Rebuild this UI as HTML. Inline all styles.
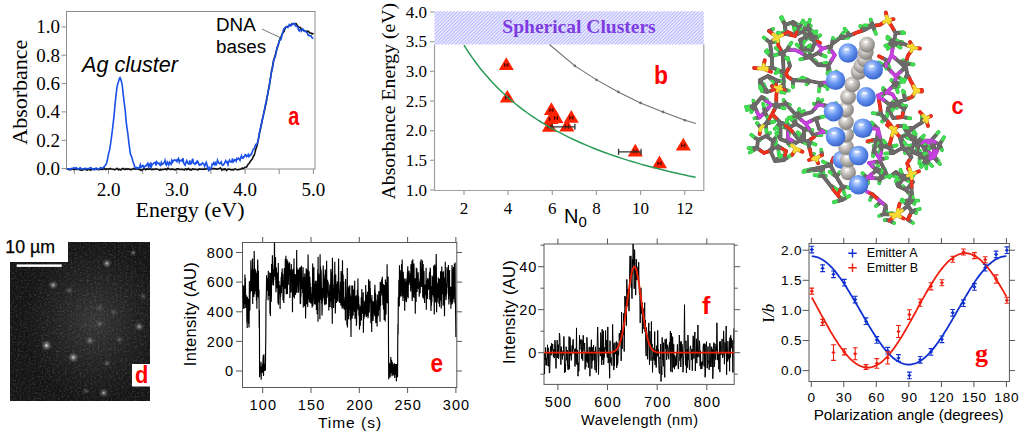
<!DOCTYPE html>
<html><head><meta charset="utf-8"><style>
html,body{margin:0;padding:0;background:#fff;width:1024px;height:431px;overflow:hidden}
svg{display:block}
</style></head><body>
<svg width="1024" height="431" viewBox="0 0 1024 431">
<rect width="1024" height="431" fill="#fff"/>
<rect x="66.5" y="11.5" width="248.5" height="157.5" fill="none" stroke="#8c8c8c" stroke-width="1"/>
<line x1="61.5" y1="168.6" x2="66.5" y2="168.6" stroke="#8c8c8c"/>
<text x="60" y="175.1" text-anchor="end" font-family='"Liberation Serif", serif' font-size="19">0.0</text>
<line x1="61.5" y1="140.3" x2="66.5" y2="140.3" stroke="#8c8c8c"/>
<text x="60" y="146.8" text-anchor="end" font-family='"Liberation Serif", serif' font-size="19">0.2</text>
<line x1="61.5" y1="111.9" x2="66.5" y2="111.9" stroke="#8c8c8c"/>
<text x="60" y="118.4" text-anchor="end" font-family='"Liberation Serif", serif' font-size="19">0.4</text>
<line x1="61.5" y1="83.6" x2="66.5" y2="83.6" stroke="#8c8c8c"/>
<text x="60" y="90.1" text-anchor="end" font-family='"Liberation Serif", serif' font-size="19">0.6</text>
<line x1="61.5" y1="55.2" x2="66.5" y2="55.2" stroke="#8c8c8c"/>
<text x="60" y="61.7" text-anchor="end" font-family='"Liberation Serif", serif' font-size="19">0.8</text>
<line x1="61.5" y1="26.9" x2="66.5" y2="26.9" stroke="#8c8c8c"/>
<text x="60" y="33.4" text-anchor="end" font-family='"Liberation Serif", serif' font-size="19">1.0</text>
<line x1="74.3" y1="169" x2="74.3" y2="174" stroke="#8c8c8c"/>
<line x1="108.5" y1="169" x2="108.5" y2="174" stroke="#8c8c8c"/>
<line x1="142.7" y1="169" x2="142.7" y2="174" stroke="#8c8c8c"/>
<line x1="176.8" y1="169" x2="176.8" y2="174" stroke="#8c8c8c"/>
<line x1="210.9" y1="169" x2="210.9" y2="174" stroke="#8c8c8c"/>
<line x1="245.1" y1="169" x2="245.1" y2="174" stroke="#8c8c8c"/>
<line x1="279.2" y1="169" x2="279.2" y2="174" stroke="#8c8c8c"/>
<line x1="313.4" y1="169" x2="313.4" y2="174" stroke="#8c8c8c"/>
<text x="108.5" y="196.4" text-anchor="middle" font-family='"Liberation Serif", serif' font-size="19">2.0</text>
<text x="176.8" y="196.4" text-anchor="middle" font-family='"Liberation Serif", serif' font-size="19">3.0</text>
<text x="245.1" y="196.4" text-anchor="middle" font-family='"Liberation Serif", serif' font-size="19">4.0</text>
<text x="313.4" y="196.4" text-anchor="middle" font-family='"Liberation Serif", serif' font-size="19">5.0</text>
<text x="190" y="217.2" text-anchor="middle" font-family='"Liberation Serif", serif' font-size="22">Energy (eV)</text>
<text transform="translate(26.8,92.2) rotate(-90)" text-anchor="middle" font-family='"Liberation Serif", serif' font-size="22">Absorbance</text>
<polyline points="66.8,169.2 67.6,169.1 68.3,169.2 69.1,169.6 69.8,169.6 70.6,169.7 71.3,169.5 72.1,168.7 72.8,168.9 73.6,169.6 74.3,169.2 75.1,168.9 75.8,169.0 76.6,169.5 77.3,169.5 78.1,168.9 78.8,169.4 79.6,169.8 80.3,170.0 81.1,170.3 81.8,170.3 82.6,169.9 83.3,169.7 84.1,169.5 84.8,169.0 85.6,169.2 86.3,170.1 87.1,170.2 87.8,169.4 88.6,169.1 89.3,169.7 90.1,169.9 90.8,169.7 91.6,169.8 92.3,169.1 93.1,169.1 93.8,169.5 94.6,168.9 95.3,169.1 96.1,169.4 96.8,169.2 97.6,169.1 98.3,169.6 99.1,169.6 99.8,168.7 100.6,169.2 101.3,169.4 102.1,168.8 102.8,169.4 103.6,168.7 104.3,168.2 105.1,169.3 105.8,169.6 106.6,168.9 107.3,169.0 108.1,169.0 108.8,168.9 109.6,169.0 110.3,168.4 111.1,168.9 111.8,169.3 112.6,169.3 113.3,169.3 114.1,169.5 114.8,169.8 115.6,169.4 116.3,168.9 117.0,168.4 117.8,169.2 118.5,169.9 119.3,169.2 120.0,169.6 120.8,170.0 121.5,169.4 122.3,168.8 123.0,168.5 123.8,169.0 124.5,169.4 125.3,169.4 126.0,168.7 126.8,168.8 127.5,169.4 128.3,169.1 129.0,169.1 129.8,169.3 130.5,169.6 131.3,169.6 132.0,169.3 132.8,168.9 133.5,168.5 134.3,168.9 135.0,168.9 135.8,169.1 136.5,168.9 137.3,168.8 138.0,169.0 138.8,169.4 139.5,169.5 140.3,169.6 141.0,170.5 141.8,170.0 142.5,169.6 143.3,169.4 144.0,168.3 144.8,168.7 145.5,169.7 146.3,169.3 147.0,168.9 147.8,169.1 148.5,169.3 149.3,169.0 150.0,168.7 150.8,169.3 151.5,169.6 152.3,169.2 153.0,169.5 153.8,169.4 154.5,169.4 155.3,169.1 156.0,168.8 156.8,169.1 157.5,169.3 158.3,169.4 159.0,169.9 159.8,170.3 160.5,169.4 161.3,169.8 162.0,169.6 162.8,169.5 163.5,169.5 164.3,169.2 165.0,169.2 165.8,168.8 166.5,169.7 167.3,169.3 168.0,168.2 168.8,168.7 169.5,169.3 170.3,169.3 171.0,169.6 171.8,169.1 172.5,169.0 173.3,169.4 174.0,169.5 174.8,169.7 175.5,169.8 176.3,169.2 177.0,168.8 177.8,168.9 178.5,168.8 179.3,169.4 180.0,169.5 180.8,169.5 181.5,169.4 182.2,169.3 183.0,169.4 183.7,169.8 184.5,169.9 185.2,168.9 186.0,168.8 186.7,169.8 187.5,169.4 188.2,168.5 189.0,169.2 189.7,169.8 190.5,169.5 191.2,170.0 192.0,169.5 192.7,168.9 193.5,169.1 194.2,169.4 195.0,169.3 195.7,169.2 196.5,169.4 197.2,169.6 198.0,170.0 198.7,169.1 199.5,168.9 200.2,169.2 201.0,169.1 201.7,169.3 202.5,169.5 203.2,169.1 204.0,169.1 204.7,169.3 205.5,169.2 206.2,168.7 207.0,168.5 207.7,168.8 208.5,169.2 209.2,169.9 210.0,169.3 210.7,168.5 211.5,168.9 212.2,169.0 213.0,168.7 213.7,168.6 214.5,168.5 215.2,169.0 216.0,168.8 216.7,169.1 217.5,169.3 218.2,168.7 219.0,168.7 219.7,168.2 220.5,168.0 221.2,169.0 222.0,170.2 222.7,169.5 223.5,169.2 224.2,169.5 225.0,168.9 225.7,169.5 226.5,170.5 227.2,169.8 228.0,169.1 228.7,169.2 229.5,169.2 230.2,169.5 231.0,170.0 231.7,169.8 232.5,169.6 233.2,170.1 234.0,169.6 234.7,169.0 235.5,169.0 236.2,169.4 237.0,169.8 237.7,169.8 238.5,169.8 239.2,169.4 240.0,169.3 240.7,169.2 241.5,168.7 242.2,168.1 243.0,168.7 243.7,168.6 244.5,167.5 245.2,167.3 246.0,167.2 246.7,166.8 247.5,165.3 248.2,164.2 248.9,163.5 249.7,162.6 250.4,161.2 251.2,160.2 251.9,159.6 252.7,158.1 253.4,156.2 254.2,155.3 254.9,152.9 255.7,149.5 256.4,147.5 257.2,145.2 257.9,141.7 258.7,137.3 259.4,133.4 260.2,130.3 260.9,126.9 261.7,123.4 262.4,119.6 263.2,115.9 263.9,112.6 264.7,109.7 265.4,106.1 266.2,102.5 266.9,98.1 267.7,94.1 268.4,90.3 269.2,85.6 269.9,81.8 270.7,76.9 271.4,71.7 272.2,68.2 272.9,64.2 273.7,59.7 274.4,58.1 275.2,55.6 275.9,52.2 276.7,49.7 277.4,47.6 278.2,45.2 278.9,42.3 279.7,39.8 280.4,38.0 281.2,36.8 281.9,34.7 282.7,33.3 283.4,32.3 284.2,31.2 284.9,28.8 285.7,27.1 286.4,26.8 287.2,26.4 287.9,26.2 288.7,25.9 289.4,25.5 290.2,25.4 290.9,25.0 291.7,24.0 292.4,23.6 293.2,23.8 293.9,23.9 294.7,23.8 295.4,23.6 296.2,23.8 296.9,25.0 297.7,25.9 298.4,26.9 299.2,27.4 299.9,27.4 300.7,28.1 301.4,29.1 302.2,29.6 302.9,29.9 303.7,30.7 304.4,31.1 305.2,31.2 305.9,31.1 306.7,31.3 307.4,31.7 308.2,31.2 308.9,31.8 309.7,32.9 310.4,33.0 311.2,33.0 311.9,33.8 312.7,33.9 313.4,33.1" fill="none" stroke="#111" stroke-width="1.6"/>
<polyline points="66.8,168.7 67.6,168.8 68.3,169.0 69.1,168.9 69.8,168.9 70.6,169.4 71.3,168.5 72.1,168.5 72.8,168.5 73.6,167.7 74.3,168.0 75.1,168.3 75.8,167.7 76.6,168.0 77.3,168.9 78.1,169.3 78.8,169.1 79.6,168.1 80.3,167.7 81.1,168.6 81.8,169.2 82.6,169.1 83.3,168.7 84.1,168.6 84.8,168.6 85.6,168.4 86.3,168.6 87.1,168.7 87.8,168.5 88.6,168.6 89.3,168.5 90.1,167.8 90.8,167.7 91.6,168.4 92.3,169.2 93.1,169.1 93.8,169.2 94.6,169.8 95.3,168.8 96.1,168.0 96.8,168.4 97.6,169.3 98.3,169.3 99.1,169.0 99.8,168.6 100.6,167.6 101.3,167.7 102.1,168.1 102.8,168.2 103.6,167.4 104.3,166.4 105.1,165.8 105.8,164.8 106.6,163.2 107.3,160.3 108.1,156.1 108.8,152.8 109.6,150.0 110.3,145.7 111.1,140.2 111.8,134.8 112.6,128.4 113.3,122.1 114.1,115.7 114.8,107.0 115.6,99.2 116.3,93.2 117.0,86.8 117.8,83.7 118.5,81.8 119.3,78.7 120.0,77.6 120.8,79.4 121.5,81.7 122.3,85.5 123.0,92.4 123.8,99.4 124.5,104.8 125.3,111.0 126.0,120.1 126.8,126.5 127.5,131.4 128.3,137.6 129.0,143.8 129.8,149.7 130.5,154.4 131.3,155.8 132.0,158.0 132.8,160.9 133.5,163.0 134.3,165.4 135.0,167.2 135.8,168.3 136.5,167.5 137.3,168.5 138.0,167.7 138.8,167.6 139.5,167.9 140.3,164.8 141.0,167.1 141.8,166.8 142.5,165.5 143.3,165.7 144.0,167.7 144.8,166.6 145.5,165.7 146.3,165.7 147.0,164.2 147.8,163.3 148.5,166.7 149.3,164.9 150.0,166.3 150.8,162.5 151.5,166.4 152.3,164.2 153.0,164.1 153.8,163.2 154.5,162.8 155.3,162.4 156.0,165.5 156.8,162.0 157.5,163.2 158.3,163.5 159.0,163.1 159.8,164.9 160.5,165.4 161.3,162.4 162.0,164.4 162.8,164.0 163.5,163.1 164.3,162.6 165.0,160.4 165.8,164.4 166.5,165.2 167.3,162.1 168.0,163.2 168.8,165.1 169.5,162.3 170.3,163.6 171.0,164.3 171.8,160.5 172.5,162.2 173.3,160.4 174.0,160.6 174.8,159.9 175.5,160.6 176.3,160.1 177.0,161.5 177.8,159.3 178.5,158.4 179.3,162.1 180.0,160.4 180.8,160.7 181.5,160.2 182.2,161.1 183.0,158.2 183.7,162.7 184.5,164.5 185.2,165.2 186.0,162.2 186.7,160.6 187.5,162.8 188.2,163.5 189.0,164.0 189.7,160.5 190.5,163.9 191.2,163.6 192.0,161.1 192.7,158.7 193.5,163.3 194.2,163.5 195.0,164.3 195.7,162.7 196.5,163.1 197.2,161.0 198.0,161.7 198.7,164.1 199.5,165.1 200.2,164.2 201.0,164.9 201.7,163.9 202.5,162.9 203.2,163.4 204.0,164.4 204.7,166.2 205.5,164.1 206.2,162.3 207.0,164.7 207.7,168.6 208.5,170.1 209.2,167.5 210.0,169.0 210.7,168.8 211.5,167.9 212.2,164.0 213.0,164.4 213.7,162.9 214.5,164.4 215.2,162.8 216.0,164.9 216.7,163.9 217.5,160.2 218.2,162.0 219.0,163.2 219.7,163.8 220.5,163.2 221.2,162.0 222.0,164.6 222.7,165.4 223.5,164.6 224.2,163.9 225.0,162.1 225.7,160.7 226.5,162.4 227.2,161.9 228.0,164.7 228.7,162.0 229.5,160.1 230.2,161.3 231.0,162.1 231.7,161.9 232.5,158.5 233.2,162.0 234.0,161.1 234.7,159.6 235.5,159.8 236.2,161.1 237.0,158.5 237.7,159.1 238.5,158.2 239.2,158.9 240.0,160.4 240.7,157.8 241.5,155.8 242.2,158.2 243.0,158.4 243.7,156.7 244.5,156.7 245.2,154.7 246.0,155.1 246.7,156.6 247.5,155.8 248.2,154.5 248.9,156.7 249.7,156.0 250.4,154.5 251.2,154.7 251.9,153.1 252.7,150.3 253.4,149.1 254.2,148.9 254.9,146.4 255.7,144.5 256.4,144.8 257.2,143.6 257.9,141.0 258.7,137.9 259.4,133.3 260.2,129.1 260.9,125.9 261.7,122.1 262.4,119.3 263.2,116.6 263.9,112.1 264.7,108.3 265.4,104.6 266.2,101.4 266.9,98.2 267.7,94.0 268.4,90.2 269.2,87.4 269.9,82.0 270.7,76.7 271.4,72.6 272.2,69.6 272.9,65.8 273.7,60.8 274.4,58.4 275.2,57.0 275.9,54.1 276.7,49.3 277.4,46.3 278.2,44.8 278.9,42.6 279.7,39.6 280.4,39.9 281.2,38.9 281.9,35.0 282.7,32.8 283.4,30.3 284.2,28.4 284.9,27.7 285.7,27.6 286.4,27.0 287.2,27.2 287.9,27.5 288.7,26.1 289.4,24.4 290.2,24.8 290.9,25.9 291.7,25.3 292.4,24.0 293.2,23.8 293.9,23.4 294.7,23.7 295.4,25.9 296.2,26.3 296.9,26.6 297.7,26.8 298.4,29.4 299.2,30.9 299.9,29.7 300.7,29.6 301.4,31.1 302.2,30.0 302.9,29.0 303.7,30.0 304.4,31.2 305.2,31.4 305.9,31.8 306.7,32.4 307.4,33.4 308.2,35.4 308.9,35.2 309.7,35.7 310.4,35.9 311.2,35.8 311.9,37.5 312.7,38.3 313.4,38.4" fill="none" stroke="#1a4fe8" stroke-width="1.6"/>
<text x="82" y="72.2" font-family='"Liberation Sans", sans-serif' font-size="21.6" font-style="italic">Ag cluster</text>
<text x="216" y="31" font-family='"Liberation Sans", sans-serif' font-size="18.8">DNA</text>
<text x="216" y="52.8" font-family='"Liberation Sans", sans-serif' font-size="18.8">bases</text>
<line x1="262" y1="29" x2="281" y2="38" stroke="#555" stroke-width="0.8"/>
<text transform="translate(288.3,124.5) scale(0.75,1)" font-family='"Liberation Sans", sans-serif' font-size="26.5" font-weight="bold" fill="#f00">a</text>
<defs><pattern id="hatch" width="2.4" height="2.4" patternUnits="userSpaceOnUse" patternTransform="rotate(45)"><rect width="2.4" height="2.4" fill="#eeeeff"/><rect width="1.0" height="2.4" fill="#b4b4ff"/></pattern></defs>
<rect x="434.5" y="11.3" width="269.3" height="33.2" fill="url(#hatch)"/>
<polyline points="434.5,44.5 434.5,190.5 703.8,190.5 703.8,44.5" fill="none" stroke="#a0a0a0" stroke-width="1.2"/>
<line x1="430" y1="190.0" x2="434.5" y2="190.0" stroke="#a0a0a0" stroke-width="1.2"/>
<text x="427" y="195.5" text-anchor="end" font-family='"Liberation Serif", serif' font-size="17">1.0</text>
<line x1="430" y1="160.3" x2="434.5" y2="160.3" stroke="#a0a0a0" stroke-width="1.2"/>
<text x="427" y="165.8" text-anchor="end" font-family='"Liberation Serif", serif' font-size="17">1.5</text>
<line x1="430" y1="130.7" x2="434.5" y2="130.7" stroke="#a0a0a0" stroke-width="1.2"/>
<text x="427" y="136.2" text-anchor="end" font-family='"Liberation Serif", serif' font-size="17">2.0</text>
<line x1="430" y1="101.0" x2="434.5" y2="101.0" stroke="#a0a0a0" stroke-width="1.2"/>
<text x="427" y="106.5" text-anchor="end" font-family='"Liberation Serif", serif' font-size="17">2.5</text>
<line x1="430" y1="71.3" x2="434.5" y2="71.3" stroke="#a0a0a0" stroke-width="1.2"/>
<text x="427" y="76.8" text-anchor="end" font-family='"Liberation Serif", serif' font-size="17">3.0</text>
<line x1="430" y1="41.7" x2="434.5" y2="41.7" stroke="#a0a0a0" stroke-width="1.2"/>
<text x="427" y="47.2" text-anchor="end" font-family='"Liberation Serif", serif' font-size="17">3.5</text>
<line x1="430" y1="12.0" x2="434.5" y2="12.0" stroke="#a0a0a0" stroke-width="1.2"/>
<text x="427" y="17.5" text-anchor="end" font-family='"Liberation Serif", serif' font-size="17">4.0</text>
<line x1="464.0" y1="190.5" x2="464.0" y2="195" stroke="#a0a0a0" stroke-width="1.2"/>
<text x="464.0" y="214" text-anchor="middle" font-family='"Liberation Serif", serif' font-size="17">2</text>
<line x1="508.1" y1="190.5" x2="508.1" y2="195" stroke="#a0a0a0" stroke-width="1.2"/>
<text x="508.1" y="214" text-anchor="middle" font-family='"Liberation Serif", serif' font-size="17">4</text>
<line x1="552.3" y1="190.5" x2="552.3" y2="195" stroke="#a0a0a0" stroke-width="1.2"/>
<text x="552.3" y="214" text-anchor="middle" font-family='"Liberation Serif", serif' font-size="17">6</text>
<line x1="596.4" y1="190.5" x2="596.4" y2="195" stroke="#a0a0a0" stroke-width="1.2"/>
<text x="596.4" y="214" text-anchor="middle" font-family='"Liberation Serif", serif' font-size="17">8</text>
<line x1="640.6" y1="190.5" x2="640.6" y2="195" stroke="#a0a0a0" stroke-width="1.2"/>
<text x="640.6" y="214" text-anchor="middle" font-family='"Liberation Serif", serif' font-size="17">10</text>
<line x1="684.7" y1="190.5" x2="684.7" y2="195" stroke="#a0a0a0" stroke-width="1.2"/>
<text x="684.7" y="214" text-anchor="middle" font-family='"Liberation Serif", serif' font-size="17">12</text>
<text x="564" y="223.3" font-family='"Liberation Sans", sans-serif' font-size="20">N<tspan font-size="15" dy="4">0</tspan></text>
<text transform="translate(395,101.2) rotate(-90)" text-anchor="middle" font-family='"Liberation Serif", serif' font-size="19.7">Absorbance Energy (eV)</text>
<text x="579" y="33.4" text-anchor="middle" font-family='"Liberation Serif", serif' font-size="19.5" font-weight="bold" fill="#7d3ce0">Spherical Clusters</text>
<polygon points="498.8,70.0 513.8,70.0 506.3,57.3" fill="#ff2200"/>
<path d="M504.7 63.0V67.0M507.9 63.0V67.0M504.7 65.0H507.9" stroke="#300" stroke-width="0.9" fill="none"/>
<polygon points="499.8,102.6 514.8,102.6 507.3,89.9" fill="#ff2200"/>
<path d="M505.7 95.6V99.6M508.9 95.6V99.6M505.7 97.6H508.9" stroke="#300" stroke-width="0.9" fill="none"/>
<polygon points="541.9,131.7 556.9,131.7 549.4,119.0" fill="#ff2200"/>
<path d="M547.8 124.7V128.7M551.0 124.7V128.7M547.8 126.7H551.0" stroke="#300" stroke-width="0.9" fill="none"/>
<polygon points="559.4,131.5 574.4,131.5 566.9,118.8" fill="#ff2200"/>
<path d="M565.3 124.5V128.5M568.5 124.5V128.5M565.3 126.5H568.5" stroke="#300" stroke-width="0.9" fill="none"/>
<polygon points="543.5,124.0 558.5,124.0 551.0,111.3" fill="#ff2200"/>
<path d="M549.4 117.0V121.0M552.6 117.0V121.0M549.4 119.0H552.6" stroke="#300" stroke-width="0.9" fill="none"/>
<polygon points="548.5,123.0 563.5,123.0 556.0,110.3" fill="#ff2200"/>
<path d="M554.4 116.0V120.0M557.6 116.0V120.0M554.4 118.0H557.6" stroke="#300" stroke-width="0.9" fill="none"/>
<polygon points="563.8,122.7 578.8,122.7 571.3,110.0" fill="#ff2200"/>
<path d="M569.7 115.7V119.7M572.9 115.7V119.7M569.7 117.7H572.9" stroke="#300" stroke-width="0.9" fill="none"/>
<polygon points="543.9,115.0 558.9,115.0 551.4,102.3" fill="#ff2200"/>
<path d="M549.8 108.0V112.0M553.0 108.0V112.0M549.8 110.0H553.0" stroke="#300" stroke-width="0.9" fill="none"/>
<polygon points="627.8,156.4 642.8,156.4 635.3,143.7" fill="#ff2200"/>
<path d="M633.7 149.4V153.4M636.9 149.4V153.4M633.7 151.4H636.9" stroke="#300" stroke-width="0.9" fill="none"/>
<polygon points="652.0,168.3 667.0,168.3 659.5,155.6" fill="#ff2200"/>
<path d="M657.9 161.3V165.3M661.1 161.3V165.3M657.9 163.3H661.1" stroke="#300" stroke-width="0.9" fill="none"/>
<polygon points="675.8,150.5 690.8,150.5 683.3,137.8" fill="#ff2200"/>
<path d="M681.7 143.5V147.5M684.9 143.5V147.5M681.7 145.5H684.9" stroke="#300" stroke-width="0.9" fill="none"/>
<path d="M552.2 126.8H574.9M552.2 123.8V129.8M574.9 123.8V129.8" stroke="#333" stroke-width="1.3" fill="none"/>
<path d="M618.6 151.8H641.1M618.6 148.8V154.8M641.1 148.8V154.8" stroke="#333" stroke-width="1.3" fill="none"/>
<polyline points="464.0,45.1 467.9,51.3 471.9,57.1 475.8,62.5 479.7,67.7 483.6,72.5 487.6,77.1 491.5,81.5 495.4,85.6 499.3,89.5 503.3,93.3 507.2,96.8 511.1,100.3 515.1,103.5 519.0,106.6 522.9,109.6 526.8,112.5 530.8,115.3 534.7,117.9 538.6,120.5 542.5,122.9 546.5,125.3 550.4,127.6 554.3,129.8 558.3,131.9 562.2,133.9 566.1,135.9 570.0,137.8 574.0,139.7 577.9,141.5 581.8,143.3 585.7,144.9 589.7,146.6 593.6,148.2 597.5,149.7 601.4,151.2 605.4,152.7 609.3,154.1 613.2,155.5 617.2,156.8 621.1,158.1 625.0,159.4 628.9,160.6 632.9,161.8 636.8,162.9 640.7,164.1 644.6,165.2 648.6,166.3 652.5,167.3 656.4,168.3 660.4,169.3 664.3,170.3 668.2,171.3 672.1,172.2 676.1,173.1 680.0,174.0 683.9,174.8 687.8,175.7 691.8,176.5 695.7,177.3" fill="none" stroke="#2a9a58" stroke-width="1.5" stroke-linejoin="round"/>
<polyline points="549.4,44.5 574.9,65.9 596.6,79.9 618.3,91.9 640.5,102.9 663.0,111.9 685.0,120.3 696.0,123.5" fill="none" stroke="#707070" stroke-width="1.1"/>
<circle cx="574.9" cy="65.9" r="1.3" fill="#707070"/>
<circle cx="596.6" cy="79.9" r="1.3" fill="#707070"/>
<circle cx="618.3" cy="91.9" r="1.3" fill="#707070"/>
<circle cx="640.5" cy="102.9" r="1.3" fill="#707070"/>
<circle cx="663.0" cy="111.9" r="1.3" fill="#707070"/>
<circle cx="685.0" cy="120.3" r="1.3" fill="#707070"/>
<text transform="translate(654.0,83.5) scale(0.92,1)" font-family='"Liberation Sans", sans-serif' font-size="25.0" font-weight="bold" fill="#f00">b</text>
<path d="M804.5 170.6L810.2 169.6M803.5 171.5L813.4 170.3M798.6 26.4L798.2 24.8M809.2 26.9L810.8 25.9M817.0 37.4L820.2 35.3M815.5 39.5L817.0 39.5M766.9 40.0L763.8 37.4M771.1 30.0L773.2 29.0M802.7 48.4L802.4 46.8M804.4 58.4L800.3 59.3M816.5 62.6L815.0 60.3M828.0 69.8L827.5 73.9M808.3 82.7L806.6 84.3M793.0 83.6L793.0 87.0M784.2 55.6L785.7 58.3M772.0 59.3L772.1 61.4M782.5 73.0L781.5 76.0M772.6 85.7L773.2 85.4M786.9 90.3L788.8 90.6M828.0 85.7L827.5 89.0M871.7 22.8L870.7 19.6M873.8 28.4L874.8 31.0M899.4 32.7L903.0 32.1M890.5 40.5L887.4 38.4M889.3 44.2L885.3 45.7M904.0 61.9L903.0 60.3M909.3 64.0L913.5 64.5M893.2 82.0L891.5 80.0M898.9 77.5L902.0 79.1M884.6 90.8L883.2 89.6M896.9 85.2L898.8 86.4M903.9 94.8L903.0 90.6M862.3 28.0L860.2 26.0M841.5 35.5L843.0 33.0M832.5 41.0L833.0 38.0M753.9 103.3L753.4 100.7M752.8 109.0L751.3 112.1M757.0 117.9L754.4 118.4M764.4 91.5L761.7 91.0M764.3 98.3L766.9 99.6M784.7 101.9L783.6 100.0M787.8 104.3L789.9 104.8M798.2 112.7L799.3 109.0M778.4 136.2L776.3 133.0M774.5 141.2L776.0 141.4M778.8 146.8L779.5 147.6M785.4 151.4L784.7 151.8M788.3 143.5L789.9 145.6M808.7 145.1L809.7 148.7M821.6 152.3L821.2 149.7M812.8 155.4L813.9 153.9M818.1 101.9L818.1 99.0M816.0 104.3L813.9 103.8M820.2 102.4L822.3 100.0M884.6 90.0L883.2 88.1M894.3 85.5L893.6 87.0M904.5 96.0L904.1 92.0M896.4 106.0L896.8 108.0M905.1 107.5L906.2 105.9M889.2 108.5L890.5 109.0M874.7 125.6L871.7 122.6M883.7 120.0L882.1 121.5M901.0 117.2L899.9 117.4M906.1 117.7L910.3 118.4M901.5 125.8L905.1 125.7M935.7 135.2L938.5 132.0M940.8 147.2L942.0 150.0M917.8 153.9L917.6 153.9M936.4 159.0L938.5 161.0M915.3 137.0L915.6 134.0M873.4 152.8L873.0 156.0M877.2 168.2L878.0 166.0M901.5 139.5L903.0 141.0M912.3 151.9L913.0 151.9M864.8 175.5L862.5 173.2M867.5 180.6L868.0 183.4M879.6 181.1L879.2 183.4M886.4 174.1L887.0 176.0M883.5 158.6L887.0 158.0M926.2 162.0L926.5 164.0M937.1 160.9L940.0 164.0M917.5 147.0L917.0 149.0M912.1 201.9L914.4 203.8M913.8 212.1L916.0 213.0M910.5 221.3L913.0 223.0M891.7 221.8L894.0 223.0M881.5 214.9L879.2 215.9M887.0 220.2L884.7 220.0M897.0 183.5L895.9 181.0M904.5 188.1L903.0 186.2M871.4 197.2L870.0 200.0M878.5 204.0L876.0 206.0M807.6 170.9L803.5 172.0M824.5 176.0L826.0 176.0M838.2 174.4L840.0 172.0M842.0 199.0L842.0 198.0M768.0 134.5L770.0 133.0M759.0 140.0L760.0 140.0M758.9 125.4L757.0 123.0M797.1 32.6L800.3 28.6M795.7 32.0L796.7 27.0M804.8 34.3L806.6 39.0M804.6 27.9L806.3 23.1M808.5 24.7L809.9 19.8M810.4 29.9L814.7 32.7M810.6 38.7L805.6 37.5M773.4 42.2L778.4 41.7M773.3 41.9L778.3 40.7M770.0 54.4L767.0 50.3M769.6 54.8L765.9 51.3M775.2 68.8L779.9 70.7M779.8 51.0L775.7 48.0M780.4 71.2L775.7 73.1M783.9 87.7L784.5 92.8M782.7 87.6L781.3 92.5M779.3 53.9L774.4 55.3M790.2 49.8L795.3 49.7M788.6 47.0L791.4 42.7M809.9 53.8L810.1 48.7M821.1 54.5L825.7 56.6M812.3 59.3L816.3 62.5M821.3 64.1L826.2 62.8M829.3 68.9L830.4 73.9M796.4 79.8L801.4 79.2M806.9 79.6L802.2 77.6M819.6 86.4L818.9 91.4M822.9 84.8L827.3 87.4M836.2 76.6L836.4 71.5M789.1 62.7L787.7 57.8M814.9 36.2L816.4 31.4M874.0 29.0L875.9 33.8M869.3 25.7L864.2 25.4M847.8 32.8L844.6 28.8M843.4 37.8L848.5 37.5M830.9 47.2L829.2 52.0M834.5 41.7L838.4 38.4M899.1 33.1L904.2 33.0M896.3 44.6L900.5 47.6M897.0 42.4L902.1 42.0M902.2 61.6L907.3 61.9M902.5 69.8L898.7 73.2M883.3 64.9L878.9 62.4M891.3 45.1L887.8 48.8M891.2 40.2L887.5 36.7M899.6 43.9L894.5 44.5M900.0 42.1L895.4 39.8M905.9 77.1L904.0 81.8M886.3 63.4L886.3 68.5M887.6 63.2L889.4 67.9M896.1 87.2L897.8 92.0M898.2 83.0L903.1 81.4M779.6 106.9L784.4 108.4M769.2 122.8L774.2 121.6M766.1 127.0L766.5 132.1M751.4 107.5L746.9 110.0M766.3 115.1L768.6 119.7M764.2 108.8L763.2 103.7M751.0 106.3L746.0 107.0M777.9 120.4L774.1 117.0M779.9 125.9L778.9 130.9M802.4 141.7L807.0 143.9M810.8 142.7L815.5 144.6M773.0 105.2L768.0 104.3M799.8 114.1L803.8 110.9M824.6 105.5L819.6 104.8M831.2 104.9L836.0 103.2M793.8 116.8L788.8 117.6M819.3 117.6L824.3 116.4M822.1 130.3L826.7 132.7M822.2 130.2L826.9 132.3M816.4 135.0L821.5 135.0M778.2 125.1L774.8 128.9M783.8 123.5L788.7 124.9M787.7 138.1L789.1 133.2M812.6 169.1L807.6 169.9M819.0 170.1L823.5 172.5M827.5 163.9L823.0 161.6M883.5 94.3L879.8 97.9M900.0 103.6L904.4 106.1M892.5 102.7L896.2 99.2M908.1 98.6L912.8 96.6M893.8 103.2L889.1 105.1M877.7 113.8L872.7 113.2M882.6 116.4L878.5 113.3M891.7 146.7L896.6 145.4M891.8 150.0L889.1 145.7M890.2 153.2L885.1 153.6M909.9 153.9L907.7 149.4M921.9 119.2L922.0 114.1M910.1 127.8L905.0 127.9M905.5 130.1L902.9 125.7M912.5 136.1L914.2 131.3M920.1 139.1L923.8 135.6M926.9 146.0L931.4 143.5M924.7 150.9L926.0 155.8M941.4 141.6L944.0 137.2M920.7 142.7L925.4 144.7M921.0 141.0L926.0 140.4M873.7 140.3L868.8 141.9M875.5 146.7L877.9 142.3M878.7 145.7L873.6 145.9M880.7 148.7L878.7 153.4M873.7 140.3L868.8 141.8M879.9 140.8L884.5 143.1M885.4 146.5L890.3 147.8M881.2 142.3L879.9 137.4M886.4 144.9L883.4 140.7M865.2 130.6L868.6 134.4M859.7 129.0L854.8 130.4M886.0 209.1L886.4 214.2M887.2 213.7L892.3 213.1M905.6 203.2L902.1 199.5M914.9 210.3L919.8 209.0M909.4 202.7L911.7 198.1M913.2 200.3L918.3 200.7M906.5 200.7L901.4 201.6M912.1 194.2L912.9 199.2M902.2 174.6L900.5 169.8M899.9 177.4L894.9 176.7M893.3 174.1L889.3 177.3M906.2 179.6L910.6 182.2M876.9 162.1L872.0 163.7M883.3 174.6L879.6 178.1M881.0 175.4L882.5 170.6M883.2 177.5L888.0 175.8M879.8 170.0L884.8 169.5M879.2 172.4L883.3 175.4M928.4 162.4L932.1 166.0M926.2 163.4L926.4 168.5M915.0 151.4L920.0 150.7M919.7 158.4L919.4 163.5M924.0 162.8L921.1 166.9M821.3 172.0L818.6 176.3M914.6 145.3L909.5 145.7M930.9 147.5L926.3 149.7M924.3 161.9L921.7 166.3M926.8 155.7L928.0 150.7M921.4 154.0L926.5 154.0M783.7 21.8L781.8 17.1M788.2 23.9L793.0 22.2M795.9 23.7L800.3 26.4M793.6 25.3L794.5 30.4M800.7 25.0L803.1 20.6M782.6 33.5L777.6 32.8M784.9 28.4L784.7 33.5M783.4 22.0L781.0 17.5M775.0 138.3L778.0 134.1M753.6 148.1L748.5 148.1M754.1 149.8L749.8 152.5M755.3 137.9L751.3 134.8M819.6 175.7L814.5 175.1M832.5 187.4L836.1 190.9M832.8 186.9L837.1 189.7M838.7 200.9L833.8 202.2M845.0 198.4L849.5 195.9M887.6 111.4L887.0 116.4M894.2 106.9L891.5 111.2M761.2 83.2L763.1 87.9M770.3 78.5L773.8 82.2M779.3 80.8L784.3 81.9M765.7 88.9L763.7 84.2M760.1 83.4L760.3 88.5M787.6 124.6L787.0 119.6M793.6 121.6L789.9 118.0M795.3 120.7L794.3 115.7M807.4 129.5L812.4 130.2M801.5 135.7L797.7 132.3M800.7 137.2L795.7 136.0M784.7 127.4L779.6 126.4M778.4 149.4L778.9 154.4M786.8 158.0L791.0 155.1M777.6 158.8L781.6 155.6M772.6 147.8L776.5 144.5M902.3 140.5L905.7 144.3M910.8 135.9L915.0 138.9M911.7 139.1L906.8 137.7M909.2 150.0L905.0 152.9M905.8 150.9L910.0 153.8M902.9 136.2L907.2 133.5M805.7 33.5L802.4 29.6M806.1 38.8L803.3 43.1M808.6 50.4L803.6 51.0M800.4 47.8L796.6 44.4M805.8 48.1L810.0 45.2M801.4 43.1L803.4 47.8M908.4 175.8L913.5 175.5M908.3 192.5L911.6 196.4M898.3 182.6L898.8 177.5M902.0 177.5L897.4 179.8M833.7 174.8L829.6 171.8M845.3 186.9L850.2 188.2M843.0 189.2L844.6 194.1" stroke="#30b840" stroke-width="3.8" stroke-linecap="round" fill="none"/>
<path d="M791.4 33.7L795.0 35.3M795.0 35.3L799.2 33.2M799.2 33.2L803.5 31.1M803.5 31.1L805.5 29.6M805.5 29.6L807.6 28.0M807.6 28.0L810.8 33.8M810.8 33.8L813.9 39.5M813.9 39.5L818.1 44.2M825.4 47.8L828.5 46.8M828.5 46.8L831.6 51.0M773.7 40.0L770.0 42.6M770.0 42.6L771.0 49.9M771.0 49.9L772.0 57.2M772.0 57.2L772.0 62.4M772.0 62.4L772.0 67.6M772.0 67.6L767.4 68.2M780.5 49.4L782.6 53.0M782.6 53.0L783.1 61.5M783.1 61.5L783.6 70.0M783.6 70.0L783.6 77.2M783.6 77.2L783.6 84.3M782.6 53.0L784.7 51.5M784.7 51.5L786.8 49.9M786.8 49.9L790.9 49.9M802.4 53.5L809.7 57.2M809.7 57.2L813.9 55.1M813.9 55.1L818.0 53.0M818.0 53.0L820.1 51.0M809.7 57.2L813.9 61.1M813.9 61.1L818.0 65.0M818.0 65.0L823.2 65.3M823.2 65.3L828.5 65.6M828.5 65.6L831.6 60.3M783.6 70.0L785.8 73.5M790.5 78.6L793.0 80.2M793.0 80.2L801.5 80.6M801.5 80.6L810.0 81.0M810.0 81.0L815.0 82.0M815.0 82.0L820.0 83.0M820.0 83.0L824.2 82.7M832.2 81.2L836.0 80.0M788.4 68.9L790.0 66.0M813.9 39.5L817.0 41.2M876.4 25.4L872.7 25.9M872.7 25.9L868.5 27.9M868.5 27.9L864.4 30.0M864.4 30.0L861.2 31.1M854.0 33.8L849.9 35.5M849.9 35.5L845.0 36.8M845.0 36.8L840.0 38.0M840.0 38.0L836.0 41.0M836.0 41.0L832.0 44.0M893.6 29.6L895.7 33.2M895.7 33.2L894.7 37.9M894.7 37.9L893.6 42.6M893.6 42.6L892.5 48.9M895.1 58.2L898.8 61.4M898.8 61.4L902.0 64.5M902.0 64.5L905.1 67.6M905.1 67.6L900.4 71.8M891.0 71.3L886.3 66.6M886.3 66.6L888.9 60.8M893.6 42.6L898.3 43.1M898.3 43.1L903.0 43.6M903.0 43.6L908.2 45.7M906.7 59.3L905.1 63.5M905.1 63.5L906.2 68.7M906.2 68.7L907.2 73.9M907.2 73.9L909.3 78.1M882.6 58.1L886.3 60.0M886.3 60.0L886.3 63.3M895.4 80.0L895.0 84.0M895.0 84.0L890.6 88.3M783.6 84.3L781.0 86.2M776.3 100.2L776.3 105.9M776.3 105.9L774.2 110.1M769.0 118.9L765.9 123.6M765.9 123.6L763.3 125.7M754.4 105.9L758.0 101.5M758.0 101.5L761.7 97.0M761.7 97.0L766.4 100.9M768.0 108.4L764.8 112.1M764.8 112.1L762.2 114.8M757.0 111.7L754.4 105.9M776.3 118.4L780.5 122.6M780.5 122.6L785.2 125.7M792.5 131.9L795.1 135.1M795.1 135.1L797.2 137.7M797.2 137.7L799.3 140.3M799.3 140.3L803.5 140.9M803.5 140.9L807.6 141.4M807.6 141.4L810.8 139.3M776.3 105.9L781.0 104.8M781.0 104.8L785.7 103.8M785.7 103.8L791.5 110.0M791.5 110.0L797.2 116.3M797.2 116.3L804.5 114.2M804.5 114.2L811.8 112.1M811.8 112.1L815.0 108.4M823.0 105.4L828.0 106.0M797.2 116.3L801.4 119.9M810.8 121.0L816.0 118.4M816.0 118.4L817.5 123.6M817.5 123.6L819.1 128.8M819.1 128.8L821.7 130.4M818.6 133.5L813.0 135.0M813.0 135.0L809.3 129.3M780.5 122.6L780.5 130.9M780.5 130.9L780.5 139.3M780.5 139.3L783.6 140.4M783.6 140.4L786.8 141.4M786.8 141.4L791.5 145.1M807.6 141.4L809.7 149.2M810.2 169.6L816.0 168.5M816.0 168.5L823.3 166.9M823.3 166.9L830.6 165.4M830.6 165.4L833.5 171.1M833.5 171.1L836.4 176.8M830.6 165.4L832.0 161.7M882.0 93.7L886.0 92.0M886.0 92.0L889.3 93.2M894.8 98.2L897.0 102.0M897.0 102.0L893.5 103.5M893.5 103.5L890.0 105.0M890.0 105.0L884.0 100.2M908.5 98.5L905.0 100.0M905.0 100.0L901.0 101.0M901.0 101.0L897.0 102.0M880.5 110.1L881.1 114.2M881.1 114.2L883.2 116.3M883.2 116.3L885.3 118.4M885.3 118.4L887.9 121.6M889.5 144.5L888.4 147.6M888.4 147.6L891.0 150.2M891.0 150.2L893.6 152.9M893.6 152.9L898.3 150.2M898.3 150.2L903.0 147.6M903.0 147.6L907.2 152.3M907.2 152.3L911.4 157.0M911.4 157.0L909.3 160.2M923.9 120.5L921.8 122.6M921.8 122.6L917.6 125.2M917.6 125.2L913.5 127.8M913.5 127.8L910.4 130.4M910.4 130.4L907.2 133.0M907.2 133.0L909.3 136.2M909.3 136.2L911.4 139.3M911.4 139.3L914.5 140.4M914.5 140.4L917.6 141.4M917.6 141.4L920.8 144.5M920.8 144.5L923.9 147.6M923.9 147.6L929.1 152.3M937.0 150.8L939.6 144.5M939.6 144.5L935.4 142.4M924.4 140.9L917.6 141.4M877.5 134.1L876.9 139.3M876.9 139.3L875.3 144.5M875.3 144.5L873.8 149.7M873.8 149.7L876.9 154.4M881.0 152.3L882.1 145.6M882.1 145.6L880.0 137.2M876.9 139.3L872.2 140.4M882.1 145.6L885.2 146.6M885.2 146.6L888.4 147.6M863.0 128.0L870.5 128.4M883.4 203.8L885.7 205.7M885.7 205.7L884.8 209.8M884.8 209.8L883.8 214.0M883.8 214.0L890.3 214.4M902.3 210.3L907.9 205.7M907.9 205.7L909.8 208.4M909.8 208.4L911.6 211.2M911.6 211.2L909.8 215.4M907.9 205.7L908.8 202.9M908.8 202.9L909.8 200.1M909.8 200.1L910.7 195.4M910.7 195.4L911.6 190.8M911.6 190.8L911.6 187.1M903.3 177.8L907.5 175.9M896.0 172.0L899.6 174.9M899.6 174.9L903.3 177.8M876.4 170.4L872.7 166.7M874.5 162.1L880.1 161.1M880.1 161.1L882.9 166.6M882.9 166.6L885.7 172.2M885.7 172.2L882.9 175.4M882.9 175.4L880.0 178.7M880.0 178.7L873.5 178.2M871.8 174.1L876.4 170.4M880.1 161.1L880.0 160.1M926.0 160.0L930.0 158.7M911.6 151.9L915.8 153.4M915.8 153.4L920.0 155.0M920.0 155.0L923.0 157.5M923.0 157.5L926.0 160.0M813.4 170.3L823.2 169.2M918.0 145.0L922.0 143.0M930.0 143.5L934.0 146.0M934.0 146.0L934.0 150.5M930.0 157.0L926.0 159.0M926.0 159.0L922.0 156.5M922.0 156.5L918.0 154.0M918.0 154.0L918.0 149.5M918.0 149.5L918.0 145.0M785.0 25.0L789.0 23.5M789.0 23.5L793.0 22.0M793.0 22.0L796.0 25.0M796.0 25.0L799.0 28.0M799.0 28.0L797.0 32.0M790.5 35.0L786.0 34.0M786.0 34.0L785.5 29.5M785.5 29.5L785.0 25.0M758.0 140.0L762.0 138.0M762.0 138.0L766.0 136.0M766.0 136.0L769.5 138.5M769.5 138.5L773.0 141.0M773.0 141.0L772.5 145.5M772.5 145.5L772.0 150.0M772.0 150.0L768.0 151.5M760.5 150.5L757.0 148.0M757.0 148.0L757.5 144.0M757.5 144.0L758.0 140.0M823.0 176.0L826.5 180.5M826.5 180.5L830.0 185.0M830.0 185.0L833.0 189.0M839.0 196.5L842.0 200.0M888.0 108.0L892.0 106.0M892.0 106.0L896.0 104.0M896.0 104.0L900.0 106.5M900.0 106.5L904.0 109.0M904.0 109.0L903.0 113.0M897.5 117.5L893.0 118.0M893.0 118.0L890.5 113.0M890.5 113.0L888.0 108.0M760.0 80.0L764.0 78.0M764.0 78.0L768.0 76.0M768.0 76.0L772.0 78.0M772.0 78.0L776.0 80.0M776.0 80.0L776.0 84.5M771.5 90.5L767.0 92.0M767.0 92.0L763.5 86.0M763.5 86.0L760.0 80.0M788.0 128.0L792.0 126.0M792.0 126.0L796.0 124.0M796.0 124.0L800.0 126.5M800.0 126.5L804.0 129.0M804.0 129.0L804.0 133.5M804.0 133.5L804.0 138.0M804.0 138.0L800.0 140.5M800.0 140.5L796.0 143.0M796.0 143.0L792.0 140.5M788.0 133.0L788.0 128.0M770.0 150.0L774.0 148.0M774.0 148.0L778.0 146.0M778.0 146.0L782.0 148.5M785.0 155.5L784.0 160.0M784.0 160.0L779.5 160.5M779.5 160.5L775.0 161.0M775.0 161.0L772.5 155.5M772.5 155.5L770.0 150.0M900.0 138.0L904.0 136.0M904.0 136.0L908.0 134.0M908.0 134.0L911.5 137.0M911.5 137.0L915.0 140.0M915.0 140.0L913.5 144.0M913.5 144.0L912.0 148.0M912.0 148.0L907.5 148.5M907.5 148.5L903.0 149.0M903.0 149.0L901.5 143.5M901.5 143.5L900.0 138.0M800.0 40.0L804.0 38.0M804.0 38.0L808.0 36.0M808.0 36.0L811.5 39.0M811.5 39.0L815.0 42.0M815.0 42.0L813.5 46.0M813.5 46.0L812.0 50.0M812.0 50.0L807.5 50.0M807.5 50.0L803.0 50.0M803.0 50.0L801.5 45.0M801.5 45.0L800.0 40.0M905.0 176.0L909.0 179.0M909.0 179.0L913.0 182.0M913.0 182.0L909.5 186.0M909.5 186.0L906.0 190.0M906.0 190.0L902.0 188.0M902.0 188.0L898.0 186.0M898.0 186.0L901.5 181.0M901.5 181.0L905.0 176.0M836.4 176.8L839.2 181.4M839.2 181.4L842.0 186.0M842.0 186.0L840.0 190.0M799.0 28.0L798.6 26.4M807.6 28.0L809.2 26.9M813.9 39.5L817.0 37.4M813.9 39.5L815.5 39.5M770.0 42.6L766.9 40.0M769.0 31.0L771.1 30.0M803.0 50.0L802.7 48.4M808.6 57.4L804.4 58.4M818.0 65.0L816.5 62.6M828.5 65.6L828.0 69.8M810.0 81.0L808.3 82.7M793.0 80.2L793.0 83.6M782.6 53.0L784.2 55.6M772.0 57.2L772.0 59.3M783.6 70.0L782.5 73.0M772.0 86.0L772.6 85.7M785.0 90.0L786.9 90.3M828.5 82.3L828.0 85.7M872.7 25.9L871.7 22.8M872.7 25.9L873.8 28.4M895.7 33.2L899.4 32.7M893.6 42.6L890.5 40.5M893.3 42.7L889.3 44.2M905.1 63.5L904.0 61.9M905.1 63.5L909.3 64.0M895.0 84.0L893.2 82.0M895.7 76.0L898.9 77.5M886.0 92.0L884.6 90.8M895.0 84.0L896.9 85.2M904.8 98.9L903.9 94.8M864.4 30.0L862.3 28.0M840.0 38.0L841.5 35.5M832.0 44.0L832.5 41.0M754.4 105.9L753.9 103.3M754.4 105.9L752.8 109.0M759.6 117.4L757.0 117.9M767.0 92.0L764.4 91.5M761.7 97.0L764.3 98.3M785.7 103.8L784.7 101.9M785.7 103.8L787.8 104.3M797.2 116.3L798.2 112.7M780.5 139.3L778.4 136.2M773.0 141.0L774.5 141.2M778.0 146.0L778.8 146.8M786.0 151.0L785.4 151.4M786.8 141.4L788.3 143.5M807.6 141.4L808.7 145.1M822.0 155.0L821.6 152.3M811.8 157.0L812.8 155.4M818.1 104.8L818.1 101.9M818.1 104.8L816.0 104.3M818.1 104.8L820.2 102.4M886.0 92.0L884.6 90.0M895.0 84.0L894.3 85.5M905.0 100.0L904.5 96.0M896.0 104.0L896.4 106.0M904.0 109.0L905.1 107.5M888.0 108.0L889.2 108.5M877.8 128.6L874.7 125.6M885.3 118.4L883.7 120.0M902.0 117.0L901.0 117.2M902.0 117.0L906.1 117.7M898.0 126.0L901.5 125.8M932.9 138.4L935.7 135.2M939.6 144.5L940.8 147.2M918.0 154.0L917.8 153.9M934.3 157.0L936.4 159.0M915.0 140.0L915.3 137.0M873.8 149.7L873.4 152.8M876.4 170.4L877.2 168.2M900.0 138.0L901.5 139.5M911.6 151.9L912.3 151.9M867.1 177.8L864.8 175.5M867.1 177.8L867.5 180.6M880.0 178.7L879.6 181.1M885.7 172.2L886.4 174.1M880.0 159.1L883.5 158.6M926.0 160.0L926.2 162.0M934.2 157.8L937.1 160.9M918.0 145.0L917.5 147.0M909.8 200.1L912.1 201.9M911.6 211.2L913.8 212.1M907.9 219.6L910.5 221.3M889.4 220.5L891.7 221.8M883.8 214.0L881.5 214.9M889.4 220.5L887.0 220.2M898.0 186.0L897.0 183.5M906.0 190.0L904.5 188.1M872.7 194.5L871.4 197.2M881.0 202.0L878.5 204.0M811.7 169.7L807.6 170.9M823.0 176.0L824.5 176.0M836.4 176.8L838.2 174.4M842.0 200.0L842.0 199.0M766.0 136.0L768.0 134.5M758.0 140.0L759.0 140.0M760.7 127.8L758.9 125.4M795.0 35.3L797.1 32.6M795.0 35.3L795.7 32.0M803.5 31.1L804.8 34.3M803.5 31.1L804.6 27.9M807.6 28.0L808.5 24.7M807.6 28.0L810.4 29.9M813.9 39.5L810.6 38.7M770.0 42.6L773.4 42.2M770.0 42.6L773.3 41.9M772.0 57.2L770.0 54.4M772.0 57.2L769.6 54.8M772.0 67.6L775.2 68.8M782.6 53.0L779.8 51.0M783.6 70.0L780.4 71.2M783.6 84.3L783.9 87.7M783.6 84.3L782.7 87.6M782.6 53.0L779.3 53.9M786.8 49.9L790.2 49.8M786.8 49.9L788.6 47.0M809.7 57.2L809.9 53.8M818.0 53.0L821.1 54.5M809.7 57.2L812.3 59.3M818.0 65.0L821.3 64.1M828.5 65.6L829.3 68.9M793.0 80.2L796.4 79.8M810.0 81.0L806.9 79.6M820.0 83.0L819.6 86.4M820.0 83.0L822.9 84.8M836.0 80.0L836.2 76.6M790.0 66.0L789.1 62.7M813.9 39.5L814.9 36.2M872.7 25.9L874.0 29.0M872.7 25.9L869.3 25.7M849.9 35.5L847.8 32.8M840.0 38.0L843.4 37.8M832.0 44.0L830.9 47.2M832.0 44.0L834.5 41.7M895.7 33.2L899.1 33.1M893.6 42.6L896.3 44.6M893.6 42.6L897.0 42.4M898.8 61.4L902.2 61.6M905.1 67.6L902.5 69.8M886.3 66.6L883.3 64.9M893.6 42.6L891.3 45.1M893.6 42.6L891.2 40.2M903.0 43.6L899.6 43.9M903.0 43.6L900.0 42.1M907.2 73.9L905.9 77.1M886.3 60.0L886.3 63.4M886.3 60.0L887.6 63.2M895.0 84.0L896.1 87.2M895.0 84.0L898.2 83.0M776.3 105.9L779.6 106.9M765.9 123.6L769.2 122.8M765.9 123.6L766.1 127.0M754.4 105.9L751.4 107.5M764.8 112.1L766.3 115.1M764.8 112.1L764.2 108.8M754.4 105.9L751.0 106.3M780.5 122.6L777.9 120.4M780.5 122.6L779.9 125.9M799.3 140.3L802.4 141.7M807.6 141.4L810.8 142.7M776.3 105.9L773.0 105.2M797.2 116.3L799.8 114.1M828.0 106.0L824.6 105.5M828.0 106.0L831.2 104.9M797.2 116.3L793.8 116.8M816.0 118.4L819.3 117.6M819.1 128.8L822.1 130.3M819.1 128.8L822.2 130.2M813.0 135.0L816.4 135.0M780.5 122.6L778.2 125.1M780.5 122.6L783.8 123.5M786.8 141.4L787.7 138.1M816.0 168.5L812.6 169.1M816.0 168.5L819.0 170.1M830.6 165.4L827.5 163.9M886.0 92.0L883.5 94.3M897.0 102.0L900.0 103.6M890.0 105.0L892.5 102.7M905.0 100.0L908.1 98.6M897.0 102.0L893.8 103.2M881.1 114.2L877.7 113.8M885.3 118.4L882.6 116.4M888.4 147.6L891.7 146.7M893.6 152.9L891.8 150.0M893.6 152.9L890.2 153.2M911.4 157.0L909.9 153.9M921.8 122.6L921.9 119.2M913.5 127.8L910.1 127.8M907.2 133.0L905.5 130.1M911.4 139.3L912.5 136.1M917.6 141.4L920.1 139.1M923.9 147.6L926.9 146.0M923.9 147.6L924.7 150.9M939.6 144.5L941.4 141.6M917.6 141.4L920.7 142.7M917.6 141.4L921.0 141.0M876.9 139.3L873.7 140.3M873.8 149.7L875.5 146.7M882.1 145.6L878.7 145.7M882.1 145.6L880.7 148.7M876.9 139.3L873.7 140.3M876.9 139.3L879.9 140.8M882.1 145.6L885.4 146.5M882.1 145.6L881.2 142.3M888.4 147.6L886.4 144.9M863.0 128.0L865.2 130.6M863.0 128.0L859.7 129.0M885.7 205.7L886.0 209.1M883.8 214.0L887.2 213.7M907.9 205.7L905.6 203.2M911.6 211.2L914.9 210.3M907.9 205.7L909.4 202.7M909.8 200.1L913.2 200.3M909.8 200.1L906.5 200.7M911.6 190.8L912.1 194.2M903.3 177.8L902.2 174.6M903.3 177.8L899.9 177.4M896.0 172.0L893.3 174.1M903.3 177.8L906.2 179.6M880.1 161.1L876.9 162.1M885.7 172.2L883.3 174.6M880.0 178.7L881.0 175.4M880.0 178.7L883.2 177.5M876.4 170.4L879.8 170.0M876.4 170.4L879.2 172.4M926.0 160.0L928.4 162.4M926.0 160.0L926.2 163.4M911.6 151.9L915.0 151.4M920.0 155.0L919.7 158.4M926.0 160.0L924.0 162.8M823.2 169.2L821.3 172.0M918.0 145.0L914.6 145.3M934.0 146.0L930.9 147.5M926.0 159.0L924.3 161.9M926.0 159.0L926.8 155.7M918.0 154.0L921.4 154.0M785.0 25.0L783.7 21.8M785.0 25.0L788.2 23.9M793.0 22.0L795.9 23.7M793.0 22.0L793.6 25.3M799.0 28.0L800.7 25.0M786.0 34.0L782.6 33.5M785.0 25.0L784.9 28.4M785.0 25.0L783.4 22.0M773.0 141.0L775.0 138.3M757.0 148.0L753.6 148.1M757.0 148.0L754.1 149.8M758.0 140.0L755.3 137.9M823.0 176.0L819.6 175.7M830.0 185.0L832.5 187.4M830.0 185.0L832.8 186.9M842.0 200.0L838.7 200.9M842.0 200.0L845.0 198.4M888.0 108.0L887.6 111.4M896.0 104.0L894.2 106.9M760.0 80.0L761.2 83.2M768.0 76.0L770.3 78.5M776.0 80.0L779.3 80.8M767.0 92.0L765.7 88.9M760.0 80.0L760.1 83.4M788.0 128.0L787.6 124.6M796.0 124.0L793.6 121.6M796.0 124.0L795.3 120.7M804.0 129.0L807.4 129.5M804.0 138.0L801.5 135.7M804.0 138.0L800.7 137.2M788.0 128.0L784.7 127.4M778.0 146.0L778.4 149.4M784.0 160.0L786.8 158.0M775.0 161.0L777.6 158.8M770.0 150.0L772.6 147.8M900.0 138.0L902.3 140.5M908.0 134.0L910.8 135.9M915.0 140.0L911.7 139.1M912.0 148.0L909.2 150.0M903.0 149.0L905.8 150.9M900.0 138.0L902.9 136.2M808.0 36.0L805.7 33.5M808.0 36.0L806.1 38.8M812.0 50.0L808.6 50.4M803.0 50.0L800.4 47.8M803.0 50.0L805.8 48.1M800.0 40.0L801.4 43.1M905.0 176.0L908.4 175.8M906.0 190.0L908.3 192.5M898.0 186.0L898.3 182.6M905.0 176.0L902.0 177.5M836.4 176.8L833.7 174.8M842.0 186.0L845.3 186.9M842.0 186.0L843.0 189.2" stroke="#575353" stroke-width="3.8" stroke-linecap="round" fill="none"/>
<path d="M818.1 44.2L822.3 48.9M822.3 48.9L825.4 47.8M831.6 51.0L834.8 55.1M790.9 49.9L795.0 49.9M795.0 49.9L802.4 53.5M820.1 51.0L822.3 48.9M831.6 60.3L834.8 55.1M824.2 82.7L828.5 82.3M828.5 82.3L832.2 81.2M892.5 48.9L891.5 55.1M891.5 55.1L895.1 58.2M900.4 71.8L895.7 76.0M895.7 76.0L891.0 71.3M888.9 60.8L891.5 55.1M886.3 63.3L886.3 66.6M895.7 76.0L895.4 80.0M890.6 88.3L886.3 92.7M766.4 100.9L771.1 104.8M771.1 104.8L768.0 108.4M762.2 114.8L759.6 117.4M759.6 117.4L757.0 111.7M815.0 108.4L818.1 104.8M818.1 104.8L823.0 105.4M801.4 119.9L805.6 123.6M805.6 123.6L810.8 121.0M821.7 130.4L824.3 132.0M824.3 132.0L818.6 133.5M809.3 129.3L805.6 123.6M878.0 95.4L882.0 93.7M889.3 93.2L892.6 94.4M892.6 94.4L894.8 98.2M884.0 100.2L878.0 95.4M878.0 95.4L879.0 100.7M929.1 152.3L934.3 157.0M934.3 157.0L937.0 150.8M935.4 142.4L931.2 140.3M931.2 140.3L924.4 140.9M878.0 128.8L877.5 134.1M876.9 154.4L880.0 159.1M880.0 159.1L881.0 152.3M880.0 137.2L878.0 128.8M870.5 128.4L878.0 128.8M867.1 191.7L869.9 193.1M876.9 198.2L881.0 202.0M881.0 202.0L883.4 203.8M872.7 166.7L869.0 163.0M869.0 163.0L874.5 162.1M873.5 178.2L867.1 177.8M867.1 177.8L871.8 174.1M880.0 160.1L880.0 159.1M930.0 158.7L933.9 157.4M922.0 143.0L926.0 141.0M926.0 141.0L930.0 143.5M934.0 150.5L934.0 155.0M934.0 155.0L930.0 157.0M792.0 140.5L788.0 138.0M788.0 138.0L788.0 133.0" stroke="#9a38b0" stroke-width="3.8" stroke-linecap="round" fill="none"/>
<path d="M769.0 31.0L773.2 34.2M782.6 34.8L787.8 32.1M787.8 32.1L791.4 33.7M777.9 41.5L778.4 45.7M758.4 68.3L754.0 68.0M763.8 64.5L764.8 60.3M766.9 70.2L771.1 71.8M778.4 45.7L780.5 49.4M785.8 73.5L788.0 77.0M788.0 77.0L790.5 78.6M786.8 71.8L788.4 68.9M817.0 41.2L820.0 43.0M883.7 22.4L880.0 24.8M880.0 24.8L876.4 25.4M861.2 31.1L858.0 32.1M858.0 32.1L854.0 33.8M885.9 12.3L886.6 16.1M890.5 19.6L893.6 19.2M889.5 22.9L891.5 25.9M891.5 25.9L893.6 29.6M910.9 51.5L908.2 55.1M908.2 55.1L906.7 59.3M909.3 78.1L911.4 82.3M911.4 82.3L913.5 85.9M918.8 89.8L922.0 90.0M910.0 42.0L911.8 44.9M916.8 48.1L920.0 48.5M879.0 56.2L882.6 58.1M777.3 91.2L776.3 94.4M776.3 94.4L776.3 100.2M774.2 110.1L772.1 114.2M772.1 114.2L769.0 118.9M760.2 130.9L759.6 134.1M772.0 86.0L775.2 87.0M781.7 89.0L785.0 90.0M772.1 114.2L776.3 118.4M785.2 125.7L789.9 128.8M789.9 128.8L792.5 131.9M810.8 139.3L813.9 137.2M794.1 151.8L792.0 155.0M799.3 150.2L802.4 151.8M809.7 149.2L811.8 157.0M811.8 157.0L813.9 157.6M817.0 160.7L818.1 163.3M809.0 160.0L812.5 159.1M819.0 156.6L822.0 155.0M832.0 161.7L833.4 158.0M913.8 94.2L912.0 97.0M912.0 97.0L908.5 98.5M913.0 86.0L914.3 88.7M918.8 91.4L922.0 91.5M879.0 100.7L880.0 105.9M880.0 105.9L880.5 110.1M887.9 121.6L890.5 124.7M890.5 124.7L892.0 127.3M892.0 135.7L890.5 141.4M890.5 141.4L889.5 144.5M909.3 160.2L907.2 163.3M907.2 163.3L909.4 168.7M887.0 125.0L890.3 127.5M896.3 132.9L899.0 136.0M895.8 128.0L898.0 126.0M920.0 112.0L923.0 115.2M928.5 117.2L931.0 116.0M927.0 122.2L928.0 126.0M872.2 140.4L867.5 141.4M869.9 193.1L872.7 194.5M872.7 194.5L876.9 198.2M909.8 215.4L907.9 219.6M891.0 214.0L893.9 214.4M898.2 209.4L899.6 203.8M904.0 218.6L900.4 216.8M893.1 217.7L889.4 220.5M911.6 187.1L911.6 183.4M911.6 183.4L911.6 178.8M908.0 168.5L909.8 171.3M915.3 172.7L919.0 171.3M797.0 32.0L795.0 36.0M795.0 36.0L790.5 35.0M768.0 151.5L764.0 153.0M764.0 153.0L760.5 150.5M833.0 189.0L836.0 193.0M836.0 193.0L839.0 196.5M903.0 113.0L902.0 117.0M902.0 117.0L897.5 117.5M776.0 84.5L776.0 89.0M776.0 89.0L771.5 90.5M782.0 148.5L786.0 151.0M786.0 151.0L785.0 155.5M840.0 190.0L838.0 194.0" stroke="#c02818" stroke-width="3.8" stroke-linecap="round" fill="none"/>
<path d="M773.2 34.2L777.4 37.4M777.4 37.4L782.6 34.8M777.4 37.4L777.9 41.5M777.4 37.4L773.7 40.0M767.4 68.2L762.7 68.7M762.7 68.7L758.4 68.3M762.7 68.7L763.8 64.5M762.7 68.7L766.9 70.2M887.4 20.0L883.7 22.4M886.6 16.1L887.4 20.0M887.4 20.0L890.5 19.6M887.4 20.0L889.5 22.9M908.2 45.7L913.5 47.8M913.5 47.8L910.9 51.5M913.5 85.9L915.6 89.6M915.6 89.6L918.8 89.8M911.8 44.9L913.5 47.8M913.5 47.8L916.8 48.1M781.0 86.2L778.4 88.1M778.4 88.1L777.3 91.2M763.3 125.7L760.7 127.8M760.7 127.8L760.2 130.9M775.2 87.0L778.4 88.1M778.4 88.1L781.7 89.0M791.5 145.1L796.2 148.7M796.2 148.7L794.1 151.8M796.2 148.7L799.3 150.2M813.9 157.6L816.0 158.1M816.0 158.1L817.0 160.7M812.5 159.1L816.0 158.1M816.0 158.1L819.0 156.6M915.6 91.3L913.8 94.2M914.3 88.7L915.6 91.3M915.6 91.3L918.8 91.4M892.0 127.3L893.6 129.9M893.6 129.9L892.0 135.7M909.4 168.7L911.6 174.1M890.3 127.5L893.6 129.9M893.6 129.9L896.3 132.9M893.6 129.9L895.8 128.0M926.0 118.4L923.9 120.5M923.0 115.2L926.0 118.4M926.0 118.4L928.5 117.2M926.0 118.4L927.0 122.2M890.3 214.4L896.8 214.9M896.8 214.9L902.3 210.3M893.9 214.4L896.8 214.9M896.8 214.9L898.2 209.4M900.4 216.8L896.8 214.9M896.8 214.9L893.1 217.7M911.6 178.8L911.6 174.1M909.8 171.3L911.6 174.1M911.6 174.1L915.3 172.7M907.5 175.9L911.6 174.1" stroke="#c0a828" stroke-width="3.8" stroke-linecap="round" fill="none"/>
<path d="M804.5 170.6L810.2 169.6M803.5 171.5L813.4 170.3M798.6 26.4L798.2 24.8M809.2 26.9L810.8 25.9M817.0 37.4L820.2 35.3M815.5 39.5L817.0 39.5M766.9 40.0L763.8 37.4M771.1 30.0L773.2 29.0M802.7 48.4L802.4 46.8M804.4 58.4L800.3 59.3M816.5 62.6L815.0 60.3M828.0 69.8L827.5 73.9M808.3 82.7L806.6 84.3M793.0 83.6L793.0 87.0M784.2 55.6L785.7 58.3M772.0 59.3L772.1 61.4M782.5 73.0L781.5 76.0M772.6 85.7L773.2 85.4M786.9 90.3L788.8 90.6M828.0 85.7L827.5 89.0M871.7 22.8L870.7 19.6M873.8 28.4L874.8 31.0M899.4 32.7L903.0 32.1M890.5 40.5L887.4 38.4M889.3 44.2L885.3 45.7M904.0 61.9L903.0 60.3M909.3 64.0L913.5 64.5M893.2 82.0L891.5 80.0M898.9 77.5L902.0 79.1M884.6 90.8L883.2 89.6M896.9 85.2L898.8 86.4M903.9 94.8L903.0 90.6M862.3 28.0L860.2 26.0M841.5 35.5L843.0 33.0M832.5 41.0L833.0 38.0M753.9 103.3L753.4 100.7M752.8 109.0L751.3 112.1M757.0 117.9L754.4 118.4M764.4 91.5L761.7 91.0M764.3 98.3L766.9 99.6M784.7 101.9L783.6 100.0M787.8 104.3L789.9 104.8M798.2 112.7L799.3 109.0M778.4 136.2L776.3 133.0M774.5 141.2L776.0 141.4M778.8 146.8L779.5 147.6M785.4 151.4L784.7 151.8M788.3 143.5L789.9 145.6M808.7 145.1L809.7 148.7M821.6 152.3L821.2 149.7M812.8 155.4L813.9 153.9M818.1 101.9L818.1 99.0M816.0 104.3L813.9 103.8M820.2 102.4L822.3 100.0M884.6 90.0L883.2 88.1M894.3 85.5L893.6 87.0M904.5 96.0L904.1 92.0M896.4 106.0L896.8 108.0M905.1 107.5L906.2 105.9M889.2 108.5L890.5 109.0M874.7 125.6L871.7 122.6M883.7 120.0L882.1 121.5M901.0 117.2L899.9 117.4M906.1 117.7L910.3 118.4M901.5 125.8L905.1 125.7M935.7 135.2L938.5 132.0M940.8 147.2L942.0 150.0M917.8 153.9L917.6 153.9M936.4 159.0L938.5 161.0M915.3 137.0L915.6 134.0M873.4 152.8L873.0 156.0M877.2 168.2L878.0 166.0M901.5 139.5L903.0 141.0M912.3 151.9L913.0 151.9M864.8 175.5L862.5 173.2M867.5 180.6L868.0 183.4M879.6 181.1L879.2 183.4M886.4 174.1L887.0 176.0M883.5 158.6L887.0 158.0M926.2 162.0L926.5 164.0M937.1 160.9L940.0 164.0M917.5 147.0L917.0 149.0M912.1 201.9L914.4 203.8M913.8 212.1L916.0 213.0M910.5 221.3L913.0 223.0M891.7 221.8L894.0 223.0M881.5 214.9L879.2 215.9M887.0 220.2L884.7 220.0M897.0 183.5L895.9 181.0M904.5 188.1L903.0 186.2M871.4 197.2L870.0 200.0M878.5 204.0L876.0 206.0M807.6 170.9L803.5 172.0M824.5 176.0L826.0 176.0M838.2 174.4L840.0 172.0M842.0 199.0L842.0 198.0M768.0 134.5L770.0 133.0M759.0 140.0L760.0 140.0M758.9 125.4L757.0 123.0M797.1 32.6L800.3 28.6M795.7 32.0L796.7 27.0M804.8 34.3L806.6 39.0M804.6 27.9L806.3 23.1M808.5 24.7L809.9 19.8M810.4 29.9L814.7 32.7M810.6 38.7L805.6 37.5M773.4 42.2L778.4 41.7M773.3 41.9L778.3 40.7M770.0 54.4L767.0 50.3M769.6 54.8L765.9 51.3M775.2 68.8L779.9 70.7M779.8 51.0L775.7 48.0M780.4 71.2L775.7 73.1M783.9 87.7L784.5 92.8M782.7 87.6L781.3 92.5M779.3 53.9L774.4 55.3M790.2 49.8L795.3 49.7M788.6 47.0L791.4 42.7M809.9 53.8L810.1 48.7M821.1 54.5L825.7 56.6M812.3 59.3L816.3 62.5M821.3 64.1L826.2 62.8M829.3 68.9L830.4 73.9M796.4 79.8L801.4 79.2M806.9 79.6L802.2 77.6M819.6 86.4L818.9 91.4M822.9 84.8L827.3 87.4M836.2 76.6L836.4 71.5M789.1 62.7L787.7 57.8M814.9 36.2L816.4 31.4M874.0 29.0L875.9 33.8M869.3 25.7L864.2 25.4M847.8 32.8L844.6 28.8M843.4 37.8L848.5 37.5M830.9 47.2L829.2 52.0M834.5 41.7L838.4 38.4M899.1 33.1L904.2 33.0M896.3 44.6L900.5 47.6M897.0 42.4L902.1 42.0M902.2 61.6L907.3 61.9M902.5 69.8L898.7 73.2M883.3 64.9L878.9 62.4M891.3 45.1L887.8 48.8M891.2 40.2L887.5 36.7M899.6 43.9L894.5 44.5M900.0 42.1L895.4 39.8M905.9 77.1L904.0 81.8M886.3 63.4L886.3 68.5M887.6 63.2L889.4 67.9M896.1 87.2L897.8 92.0M898.2 83.0L903.1 81.4M779.6 106.9L784.4 108.4M769.2 122.8L774.2 121.6M766.1 127.0L766.5 132.1M751.4 107.5L746.9 110.0M766.3 115.1L768.6 119.7M764.2 108.8L763.2 103.7M751.0 106.3L746.0 107.0M777.9 120.4L774.1 117.0M779.9 125.9L778.9 130.9M802.4 141.7L807.0 143.9M810.8 142.7L815.5 144.6M773.0 105.2L768.0 104.3M799.8 114.1L803.8 110.9M824.6 105.5L819.6 104.8M831.2 104.9L836.0 103.2M793.8 116.8L788.8 117.6M819.3 117.6L824.3 116.4M822.1 130.3L826.7 132.7M822.2 130.2L826.9 132.3M816.4 135.0L821.5 135.0M778.2 125.1L774.8 128.9M783.8 123.5L788.7 124.9M787.7 138.1L789.1 133.2M812.6 169.1L807.6 169.9M819.0 170.1L823.5 172.5M827.5 163.9L823.0 161.6M883.5 94.3L879.8 97.9M900.0 103.6L904.4 106.1M892.5 102.7L896.2 99.2M908.1 98.6L912.8 96.6M893.8 103.2L889.1 105.1M877.7 113.8L872.7 113.2M882.6 116.4L878.5 113.3M891.7 146.7L896.6 145.4M891.8 150.0L889.1 145.7M890.2 153.2L885.1 153.6M909.9 153.9L907.7 149.4M921.9 119.2L922.0 114.1M910.1 127.8L905.0 127.9M905.5 130.1L902.9 125.7M912.5 136.1L914.2 131.3M920.1 139.1L923.8 135.6M926.9 146.0L931.4 143.5M924.7 150.9L926.0 155.8M941.4 141.6L944.0 137.2M920.7 142.7L925.4 144.7M921.0 141.0L926.0 140.4M873.7 140.3L868.8 141.9M875.5 146.7L877.9 142.3M878.7 145.7L873.6 145.9M880.7 148.7L878.7 153.4M873.7 140.3L868.8 141.8M879.9 140.8L884.5 143.1M885.4 146.5L890.3 147.8M881.2 142.3L879.9 137.4M886.4 144.9L883.4 140.7M865.2 130.6L868.6 134.4M859.7 129.0L854.8 130.4M886.0 209.1L886.4 214.2M887.2 213.7L892.3 213.1M905.6 203.2L902.1 199.5M914.9 210.3L919.8 209.0M909.4 202.7L911.7 198.1M913.2 200.3L918.3 200.7M906.5 200.7L901.4 201.6M912.1 194.2L912.9 199.2M902.2 174.6L900.5 169.8M899.9 177.4L894.9 176.7M893.3 174.1L889.3 177.3M906.2 179.6L910.6 182.2M876.9 162.1L872.0 163.7M883.3 174.6L879.6 178.1M881.0 175.4L882.5 170.6M883.2 177.5L888.0 175.8M879.8 170.0L884.8 169.5M879.2 172.4L883.3 175.4M928.4 162.4L932.1 166.0M926.2 163.4L926.4 168.5M915.0 151.4L920.0 150.7M919.7 158.4L919.4 163.5M924.0 162.8L921.1 166.9M821.3 172.0L818.6 176.3M914.6 145.3L909.5 145.7M930.9 147.5L926.3 149.7M924.3 161.9L921.7 166.3M926.8 155.7L928.0 150.7M921.4 154.0L926.5 154.0M783.7 21.8L781.8 17.1M788.2 23.9L793.0 22.2M795.9 23.7L800.3 26.4M793.6 25.3L794.5 30.4M800.7 25.0L803.1 20.6M782.6 33.5L777.6 32.8M784.9 28.4L784.7 33.5M783.4 22.0L781.0 17.5M775.0 138.3L778.0 134.1M753.6 148.1L748.5 148.1M754.1 149.8L749.8 152.5M755.3 137.9L751.3 134.8M819.6 175.7L814.5 175.1M832.5 187.4L836.1 190.9M832.8 186.9L837.1 189.7M838.7 200.9L833.8 202.2M845.0 198.4L849.5 195.9M887.6 111.4L887.0 116.4M894.2 106.9L891.5 111.2M761.2 83.2L763.1 87.9M770.3 78.5L773.8 82.2M779.3 80.8L784.3 81.9M765.7 88.9L763.7 84.2M760.1 83.4L760.3 88.5M787.6 124.6L787.0 119.6M793.6 121.6L789.9 118.0M795.3 120.7L794.3 115.7M807.4 129.5L812.4 130.2M801.5 135.7L797.7 132.3M800.7 137.2L795.7 136.0M784.7 127.4L779.6 126.4M778.4 149.4L778.9 154.4M786.8 158.0L791.0 155.1M777.6 158.8L781.6 155.6M772.6 147.8L776.5 144.5M902.3 140.5L905.7 144.3M910.8 135.9L915.0 138.9M911.7 139.1L906.8 137.7M909.2 150.0L905.0 152.9M905.8 150.9L910.0 153.8M902.9 136.2L907.2 133.5M805.7 33.5L802.4 29.6M806.1 38.8L803.3 43.1M808.6 50.4L803.6 51.0M800.4 47.8L796.6 44.4M805.8 48.1L810.0 45.2M801.4 43.1L803.4 47.8M908.4 175.8L913.5 175.5M908.3 192.5L911.6 196.4M898.3 182.6L898.8 177.5M902.0 177.5L897.4 179.8M833.7 174.8L829.6 171.8M845.3 186.9L850.2 188.2M843.0 189.2L844.6 194.1" stroke="#40e050" stroke-width="2.8" stroke-linecap="round" fill="none"/>
<path d="M791.4 33.7L795.0 35.3M795.0 35.3L799.2 33.2M799.2 33.2L803.5 31.1M803.5 31.1L805.5 29.6M805.5 29.6L807.6 28.0M807.6 28.0L810.8 33.8M810.8 33.8L813.9 39.5M813.9 39.5L818.1 44.2M825.4 47.8L828.5 46.8M828.5 46.8L831.6 51.0M773.7 40.0L770.0 42.6M770.0 42.6L771.0 49.9M771.0 49.9L772.0 57.2M772.0 57.2L772.0 62.4M772.0 62.4L772.0 67.6M772.0 67.6L767.4 68.2M780.5 49.4L782.6 53.0M782.6 53.0L783.1 61.5M783.1 61.5L783.6 70.0M783.6 70.0L783.6 77.2M783.6 77.2L783.6 84.3M782.6 53.0L784.7 51.5M784.7 51.5L786.8 49.9M786.8 49.9L790.9 49.9M802.4 53.5L809.7 57.2M809.7 57.2L813.9 55.1M813.9 55.1L818.0 53.0M818.0 53.0L820.1 51.0M809.7 57.2L813.9 61.1M813.9 61.1L818.0 65.0M818.0 65.0L823.2 65.3M823.2 65.3L828.5 65.6M828.5 65.6L831.6 60.3M783.6 70.0L785.8 73.5M790.5 78.6L793.0 80.2M793.0 80.2L801.5 80.6M801.5 80.6L810.0 81.0M810.0 81.0L815.0 82.0M815.0 82.0L820.0 83.0M820.0 83.0L824.2 82.7M832.2 81.2L836.0 80.0M788.4 68.9L790.0 66.0M813.9 39.5L817.0 41.2M876.4 25.4L872.7 25.9M872.7 25.9L868.5 27.9M868.5 27.9L864.4 30.0M864.4 30.0L861.2 31.1M854.0 33.8L849.9 35.5M849.9 35.5L845.0 36.8M845.0 36.8L840.0 38.0M840.0 38.0L836.0 41.0M836.0 41.0L832.0 44.0M893.6 29.6L895.7 33.2M895.7 33.2L894.7 37.9M894.7 37.9L893.6 42.6M893.6 42.6L892.5 48.9M895.1 58.2L898.8 61.4M898.8 61.4L902.0 64.5M902.0 64.5L905.1 67.6M905.1 67.6L900.4 71.8M891.0 71.3L886.3 66.6M886.3 66.6L888.9 60.8M893.6 42.6L898.3 43.1M898.3 43.1L903.0 43.6M903.0 43.6L908.2 45.7M906.7 59.3L905.1 63.5M905.1 63.5L906.2 68.7M906.2 68.7L907.2 73.9M907.2 73.9L909.3 78.1M882.6 58.1L886.3 60.0M886.3 60.0L886.3 63.3M895.4 80.0L895.0 84.0M895.0 84.0L890.6 88.3M783.6 84.3L781.0 86.2M776.3 100.2L776.3 105.9M776.3 105.9L774.2 110.1M769.0 118.9L765.9 123.6M765.9 123.6L763.3 125.7M754.4 105.9L758.0 101.5M758.0 101.5L761.7 97.0M761.7 97.0L766.4 100.9M768.0 108.4L764.8 112.1M764.8 112.1L762.2 114.8M757.0 111.7L754.4 105.9M776.3 118.4L780.5 122.6M780.5 122.6L785.2 125.7M792.5 131.9L795.1 135.1M795.1 135.1L797.2 137.7M797.2 137.7L799.3 140.3M799.3 140.3L803.5 140.9M803.5 140.9L807.6 141.4M807.6 141.4L810.8 139.3M776.3 105.9L781.0 104.8M781.0 104.8L785.7 103.8M785.7 103.8L791.5 110.0M791.5 110.0L797.2 116.3M797.2 116.3L804.5 114.2M804.5 114.2L811.8 112.1M811.8 112.1L815.0 108.4M823.0 105.4L828.0 106.0M797.2 116.3L801.4 119.9M810.8 121.0L816.0 118.4M816.0 118.4L817.5 123.6M817.5 123.6L819.1 128.8M819.1 128.8L821.7 130.4M818.6 133.5L813.0 135.0M813.0 135.0L809.3 129.3M780.5 122.6L780.5 130.9M780.5 130.9L780.5 139.3M780.5 139.3L783.6 140.4M783.6 140.4L786.8 141.4M786.8 141.4L791.5 145.1M807.6 141.4L809.7 149.2M810.2 169.6L816.0 168.5M816.0 168.5L823.3 166.9M823.3 166.9L830.6 165.4M830.6 165.4L833.5 171.1M833.5 171.1L836.4 176.8M830.6 165.4L832.0 161.7M882.0 93.7L886.0 92.0M886.0 92.0L889.3 93.2M894.8 98.2L897.0 102.0M897.0 102.0L893.5 103.5M893.5 103.5L890.0 105.0M890.0 105.0L884.0 100.2M908.5 98.5L905.0 100.0M905.0 100.0L901.0 101.0M901.0 101.0L897.0 102.0M880.5 110.1L881.1 114.2M881.1 114.2L883.2 116.3M883.2 116.3L885.3 118.4M885.3 118.4L887.9 121.6M889.5 144.5L888.4 147.6M888.4 147.6L891.0 150.2M891.0 150.2L893.6 152.9M893.6 152.9L898.3 150.2M898.3 150.2L903.0 147.6M903.0 147.6L907.2 152.3M907.2 152.3L911.4 157.0M911.4 157.0L909.3 160.2M923.9 120.5L921.8 122.6M921.8 122.6L917.6 125.2M917.6 125.2L913.5 127.8M913.5 127.8L910.4 130.4M910.4 130.4L907.2 133.0M907.2 133.0L909.3 136.2M909.3 136.2L911.4 139.3M911.4 139.3L914.5 140.4M914.5 140.4L917.6 141.4M917.6 141.4L920.8 144.5M920.8 144.5L923.9 147.6M923.9 147.6L929.1 152.3M937.0 150.8L939.6 144.5M939.6 144.5L935.4 142.4M924.4 140.9L917.6 141.4M877.5 134.1L876.9 139.3M876.9 139.3L875.3 144.5M875.3 144.5L873.8 149.7M873.8 149.7L876.9 154.4M881.0 152.3L882.1 145.6M882.1 145.6L880.0 137.2M876.9 139.3L872.2 140.4M882.1 145.6L885.2 146.6M885.2 146.6L888.4 147.6M863.0 128.0L870.5 128.4M883.4 203.8L885.7 205.7M885.7 205.7L884.8 209.8M884.8 209.8L883.8 214.0M883.8 214.0L890.3 214.4M902.3 210.3L907.9 205.7M907.9 205.7L909.8 208.4M909.8 208.4L911.6 211.2M911.6 211.2L909.8 215.4M907.9 205.7L908.8 202.9M908.8 202.9L909.8 200.1M909.8 200.1L910.7 195.4M910.7 195.4L911.6 190.8M911.6 190.8L911.6 187.1M903.3 177.8L907.5 175.9M896.0 172.0L899.6 174.9M899.6 174.9L903.3 177.8M876.4 170.4L872.7 166.7M874.5 162.1L880.1 161.1M880.1 161.1L882.9 166.6M882.9 166.6L885.7 172.2M885.7 172.2L882.9 175.4M882.9 175.4L880.0 178.7M880.0 178.7L873.5 178.2M871.8 174.1L876.4 170.4M880.1 161.1L880.0 160.1M926.0 160.0L930.0 158.7M911.6 151.9L915.8 153.4M915.8 153.4L920.0 155.0M920.0 155.0L923.0 157.5M923.0 157.5L926.0 160.0M813.4 170.3L823.2 169.2M918.0 145.0L922.0 143.0M930.0 143.5L934.0 146.0M934.0 146.0L934.0 150.5M930.0 157.0L926.0 159.0M926.0 159.0L922.0 156.5M922.0 156.5L918.0 154.0M918.0 154.0L918.0 149.5M918.0 149.5L918.0 145.0M785.0 25.0L789.0 23.5M789.0 23.5L793.0 22.0M793.0 22.0L796.0 25.0M796.0 25.0L799.0 28.0M799.0 28.0L797.0 32.0M790.5 35.0L786.0 34.0M786.0 34.0L785.5 29.5M785.5 29.5L785.0 25.0M758.0 140.0L762.0 138.0M762.0 138.0L766.0 136.0M766.0 136.0L769.5 138.5M769.5 138.5L773.0 141.0M773.0 141.0L772.5 145.5M772.5 145.5L772.0 150.0M772.0 150.0L768.0 151.5M760.5 150.5L757.0 148.0M757.0 148.0L757.5 144.0M757.5 144.0L758.0 140.0M823.0 176.0L826.5 180.5M826.5 180.5L830.0 185.0M830.0 185.0L833.0 189.0M839.0 196.5L842.0 200.0M888.0 108.0L892.0 106.0M892.0 106.0L896.0 104.0M896.0 104.0L900.0 106.5M900.0 106.5L904.0 109.0M904.0 109.0L903.0 113.0M897.5 117.5L893.0 118.0M893.0 118.0L890.5 113.0M890.5 113.0L888.0 108.0M760.0 80.0L764.0 78.0M764.0 78.0L768.0 76.0M768.0 76.0L772.0 78.0M772.0 78.0L776.0 80.0M776.0 80.0L776.0 84.5M771.5 90.5L767.0 92.0M767.0 92.0L763.5 86.0M763.5 86.0L760.0 80.0M788.0 128.0L792.0 126.0M792.0 126.0L796.0 124.0M796.0 124.0L800.0 126.5M800.0 126.5L804.0 129.0M804.0 129.0L804.0 133.5M804.0 133.5L804.0 138.0M804.0 138.0L800.0 140.5M800.0 140.5L796.0 143.0M796.0 143.0L792.0 140.5M788.0 133.0L788.0 128.0M770.0 150.0L774.0 148.0M774.0 148.0L778.0 146.0M778.0 146.0L782.0 148.5M785.0 155.5L784.0 160.0M784.0 160.0L779.5 160.5M779.5 160.5L775.0 161.0M775.0 161.0L772.5 155.5M772.5 155.5L770.0 150.0M900.0 138.0L904.0 136.0M904.0 136.0L908.0 134.0M908.0 134.0L911.5 137.0M911.5 137.0L915.0 140.0M915.0 140.0L913.5 144.0M913.5 144.0L912.0 148.0M912.0 148.0L907.5 148.5M907.5 148.5L903.0 149.0M903.0 149.0L901.5 143.5M901.5 143.5L900.0 138.0M800.0 40.0L804.0 38.0M804.0 38.0L808.0 36.0M808.0 36.0L811.5 39.0M811.5 39.0L815.0 42.0M815.0 42.0L813.5 46.0M813.5 46.0L812.0 50.0M812.0 50.0L807.5 50.0M807.5 50.0L803.0 50.0M803.0 50.0L801.5 45.0M801.5 45.0L800.0 40.0M905.0 176.0L909.0 179.0M909.0 179.0L913.0 182.0M913.0 182.0L909.5 186.0M909.5 186.0L906.0 190.0M906.0 190.0L902.0 188.0M902.0 188.0L898.0 186.0M898.0 186.0L901.5 181.0M901.5 181.0L905.0 176.0M836.4 176.8L839.2 181.4M839.2 181.4L842.0 186.0M842.0 186.0L840.0 190.0M799.0 28.0L798.6 26.4M807.6 28.0L809.2 26.9M813.9 39.5L817.0 37.4M813.9 39.5L815.5 39.5M770.0 42.6L766.9 40.0M769.0 31.0L771.1 30.0M803.0 50.0L802.7 48.4M808.6 57.4L804.4 58.4M818.0 65.0L816.5 62.6M828.5 65.6L828.0 69.8M810.0 81.0L808.3 82.7M793.0 80.2L793.0 83.6M782.6 53.0L784.2 55.6M772.0 57.2L772.0 59.3M783.6 70.0L782.5 73.0M772.0 86.0L772.6 85.7M785.0 90.0L786.9 90.3M828.5 82.3L828.0 85.7M872.7 25.9L871.7 22.8M872.7 25.9L873.8 28.4M895.7 33.2L899.4 32.7M893.6 42.6L890.5 40.5M893.3 42.7L889.3 44.2M905.1 63.5L904.0 61.9M905.1 63.5L909.3 64.0M895.0 84.0L893.2 82.0M895.7 76.0L898.9 77.5M886.0 92.0L884.6 90.8M895.0 84.0L896.9 85.2M904.8 98.9L903.9 94.8M864.4 30.0L862.3 28.0M840.0 38.0L841.5 35.5M832.0 44.0L832.5 41.0M754.4 105.9L753.9 103.3M754.4 105.9L752.8 109.0M759.6 117.4L757.0 117.9M767.0 92.0L764.4 91.5M761.7 97.0L764.3 98.3M785.7 103.8L784.7 101.9M785.7 103.8L787.8 104.3M797.2 116.3L798.2 112.7M780.5 139.3L778.4 136.2M773.0 141.0L774.5 141.2M778.0 146.0L778.8 146.8M786.0 151.0L785.4 151.4M786.8 141.4L788.3 143.5M807.6 141.4L808.7 145.1M822.0 155.0L821.6 152.3M811.8 157.0L812.8 155.4M818.1 104.8L818.1 101.9M818.1 104.8L816.0 104.3M818.1 104.8L820.2 102.4M886.0 92.0L884.6 90.0M895.0 84.0L894.3 85.5M905.0 100.0L904.5 96.0M896.0 104.0L896.4 106.0M904.0 109.0L905.1 107.5M888.0 108.0L889.2 108.5M877.8 128.6L874.7 125.6M885.3 118.4L883.7 120.0M902.0 117.0L901.0 117.2M902.0 117.0L906.1 117.7M898.0 126.0L901.5 125.8M932.9 138.4L935.7 135.2M939.6 144.5L940.8 147.2M918.0 154.0L917.8 153.9M934.3 157.0L936.4 159.0M915.0 140.0L915.3 137.0M873.8 149.7L873.4 152.8M876.4 170.4L877.2 168.2M900.0 138.0L901.5 139.5M911.6 151.9L912.3 151.9M867.1 177.8L864.8 175.5M867.1 177.8L867.5 180.6M880.0 178.7L879.6 181.1M885.7 172.2L886.4 174.1M880.0 159.1L883.5 158.6M926.0 160.0L926.2 162.0M934.2 157.8L937.1 160.9M918.0 145.0L917.5 147.0M909.8 200.1L912.1 201.9M911.6 211.2L913.8 212.1M907.9 219.6L910.5 221.3M889.4 220.5L891.7 221.8M883.8 214.0L881.5 214.9M889.4 220.5L887.0 220.2M898.0 186.0L897.0 183.5M906.0 190.0L904.5 188.1M872.7 194.5L871.4 197.2M881.0 202.0L878.5 204.0M811.7 169.7L807.6 170.9M823.0 176.0L824.5 176.0M836.4 176.8L838.2 174.4M842.0 200.0L842.0 199.0M766.0 136.0L768.0 134.5M758.0 140.0L759.0 140.0M760.7 127.8L758.9 125.4M795.0 35.3L797.1 32.6M795.0 35.3L795.7 32.0M803.5 31.1L804.8 34.3M803.5 31.1L804.6 27.9M807.6 28.0L808.5 24.7M807.6 28.0L810.4 29.9M813.9 39.5L810.6 38.7M770.0 42.6L773.4 42.2M770.0 42.6L773.3 41.9M772.0 57.2L770.0 54.4M772.0 57.2L769.6 54.8M772.0 67.6L775.2 68.8M782.6 53.0L779.8 51.0M783.6 70.0L780.4 71.2M783.6 84.3L783.9 87.7M783.6 84.3L782.7 87.6M782.6 53.0L779.3 53.9M786.8 49.9L790.2 49.8M786.8 49.9L788.6 47.0M809.7 57.2L809.9 53.8M818.0 53.0L821.1 54.5M809.7 57.2L812.3 59.3M818.0 65.0L821.3 64.1M828.5 65.6L829.3 68.9M793.0 80.2L796.4 79.8M810.0 81.0L806.9 79.6M820.0 83.0L819.6 86.4M820.0 83.0L822.9 84.8M836.0 80.0L836.2 76.6M790.0 66.0L789.1 62.7M813.9 39.5L814.9 36.2M872.7 25.9L874.0 29.0M872.7 25.9L869.3 25.7M849.9 35.5L847.8 32.8M840.0 38.0L843.4 37.8M832.0 44.0L830.9 47.2M832.0 44.0L834.5 41.7M895.7 33.2L899.1 33.1M893.6 42.6L896.3 44.6M893.6 42.6L897.0 42.4M898.8 61.4L902.2 61.6M905.1 67.6L902.5 69.8M886.3 66.6L883.3 64.9M893.6 42.6L891.3 45.1M893.6 42.6L891.2 40.2M903.0 43.6L899.6 43.9M903.0 43.6L900.0 42.1M907.2 73.9L905.9 77.1M886.3 60.0L886.3 63.4M886.3 60.0L887.6 63.2M895.0 84.0L896.1 87.2M895.0 84.0L898.2 83.0M776.3 105.9L779.6 106.9M765.9 123.6L769.2 122.8M765.9 123.6L766.1 127.0M754.4 105.9L751.4 107.5M764.8 112.1L766.3 115.1M764.8 112.1L764.2 108.8M754.4 105.9L751.0 106.3M780.5 122.6L777.9 120.4M780.5 122.6L779.9 125.9M799.3 140.3L802.4 141.7M807.6 141.4L810.8 142.7M776.3 105.9L773.0 105.2M797.2 116.3L799.8 114.1M828.0 106.0L824.6 105.5M828.0 106.0L831.2 104.9M797.2 116.3L793.8 116.8M816.0 118.4L819.3 117.6M819.1 128.8L822.1 130.3M819.1 128.8L822.2 130.2M813.0 135.0L816.4 135.0M780.5 122.6L778.2 125.1M780.5 122.6L783.8 123.5M786.8 141.4L787.7 138.1M816.0 168.5L812.6 169.1M816.0 168.5L819.0 170.1M830.6 165.4L827.5 163.9M886.0 92.0L883.5 94.3M897.0 102.0L900.0 103.6M890.0 105.0L892.5 102.7M905.0 100.0L908.1 98.6M897.0 102.0L893.8 103.2M881.1 114.2L877.7 113.8M885.3 118.4L882.6 116.4M888.4 147.6L891.7 146.7M893.6 152.9L891.8 150.0M893.6 152.9L890.2 153.2M911.4 157.0L909.9 153.9M921.8 122.6L921.9 119.2M913.5 127.8L910.1 127.8M907.2 133.0L905.5 130.1M911.4 139.3L912.5 136.1M917.6 141.4L920.1 139.1M923.9 147.6L926.9 146.0M923.9 147.6L924.7 150.9M939.6 144.5L941.4 141.6M917.6 141.4L920.7 142.7M917.6 141.4L921.0 141.0M876.9 139.3L873.7 140.3M873.8 149.7L875.5 146.7M882.1 145.6L878.7 145.7M882.1 145.6L880.7 148.7M876.9 139.3L873.7 140.3M876.9 139.3L879.9 140.8M882.1 145.6L885.4 146.5M882.1 145.6L881.2 142.3M888.4 147.6L886.4 144.9M863.0 128.0L865.2 130.6M863.0 128.0L859.7 129.0M885.7 205.7L886.0 209.1M883.8 214.0L887.2 213.7M907.9 205.7L905.6 203.2M911.6 211.2L914.9 210.3M907.9 205.7L909.4 202.7M909.8 200.1L913.2 200.3M909.8 200.1L906.5 200.7M911.6 190.8L912.1 194.2M903.3 177.8L902.2 174.6M903.3 177.8L899.9 177.4M896.0 172.0L893.3 174.1M903.3 177.8L906.2 179.6M880.1 161.1L876.9 162.1M885.7 172.2L883.3 174.6M880.0 178.7L881.0 175.4M880.0 178.7L883.2 177.5M876.4 170.4L879.8 170.0M876.4 170.4L879.2 172.4M926.0 160.0L928.4 162.4M926.0 160.0L926.2 163.4M911.6 151.9L915.0 151.4M920.0 155.0L919.7 158.4M926.0 160.0L924.0 162.8M823.2 169.2L821.3 172.0M918.0 145.0L914.6 145.3M934.0 146.0L930.9 147.5M926.0 159.0L924.3 161.9M926.0 159.0L926.8 155.7M918.0 154.0L921.4 154.0M785.0 25.0L783.7 21.8M785.0 25.0L788.2 23.9M793.0 22.0L795.9 23.7M793.0 22.0L793.6 25.3M799.0 28.0L800.7 25.0M786.0 34.0L782.6 33.5M785.0 25.0L784.9 28.4M785.0 25.0L783.4 22.0M773.0 141.0L775.0 138.3M757.0 148.0L753.6 148.1M757.0 148.0L754.1 149.8M758.0 140.0L755.3 137.9M823.0 176.0L819.6 175.7M830.0 185.0L832.5 187.4M830.0 185.0L832.8 186.9M842.0 200.0L838.7 200.9M842.0 200.0L845.0 198.4M888.0 108.0L887.6 111.4M896.0 104.0L894.2 106.9M760.0 80.0L761.2 83.2M768.0 76.0L770.3 78.5M776.0 80.0L779.3 80.8M767.0 92.0L765.7 88.9M760.0 80.0L760.1 83.4M788.0 128.0L787.6 124.6M796.0 124.0L793.6 121.6M796.0 124.0L795.3 120.7M804.0 129.0L807.4 129.5M804.0 138.0L801.5 135.7M804.0 138.0L800.7 137.2M788.0 128.0L784.7 127.4M778.0 146.0L778.4 149.4M784.0 160.0L786.8 158.0M775.0 161.0L777.6 158.8M770.0 150.0L772.6 147.8M900.0 138.0L902.3 140.5M908.0 134.0L910.8 135.9M915.0 140.0L911.7 139.1M912.0 148.0L909.2 150.0M903.0 149.0L905.8 150.9M900.0 138.0L902.9 136.2M808.0 36.0L805.7 33.5M808.0 36.0L806.1 38.8M812.0 50.0L808.6 50.4M803.0 50.0L800.4 47.8M803.0 50.0L805.8 48.1M800.0 40.0L801.4 43.1M905.0 176.0L908.4 175.8M906.0 190.0L908.3 192.5M898.0 186.0L898.3 182.6M905.0 176.0L902.0 177.5M836.4 176.8L833.7 174.8M842.0 186.0L845.3 186.9M842.0 186.0L843.0 189.2" stroke="#6e6969" stroke-width="2.8" stroke-linecap="round" fill="none"/>
<path d="M818.1 44.2L822.3 48.9M822.3 48.9L825.4 47.8M831.6 51.0L834.8 55.1M790.9 49.9L795.0 49.9M795.0 49.9L802.4 53.5M820.1 51.0L822.3 48.9M831.6 60.3L834.8 55.1M824.2 82.7L828.5 82.3M828.5 82.3L832.2 81.2M892.5 48.9L891.5 55.1M891.5 55.1L895.1 58.2M900.4 71.8L895.7 76.0M895.7 76.0L891.0 71.3M888.9 60.8L891.5 55.1M886.3 63.3L886.3 66.6M895.7 76.0L895.4 80.0M890.6 88.3L886.3 92.7M766.4 100.9L771.1 104.8M771.1 104.8L768.0 108.4M762.2 114.8L759.6 117.4M759.6 117.4L757.0 111.7M815.0 108.4L818.1 104.8M818.1 104.8L823.0 105.4M801.4 119.9L805.6 123.6M805.6 123.6L810.8 121.0M821.7 130.4L824.3 132.0M824.3 132.0L818.6 133.5M809.3 129.3L805.6 123.6M878.0 95.4L882.0 93.7M889.3 93.2L892.6 94.4M892.6 94.4L894.8 98.2M884.0 100.2L878.0 95.4M878.0 95.4L879.0 100.7M929.1 152.3L934.3 157.0M934.3 157.0L937.0 150.8M935.4 142.4L931.2 140.3M931.2 140.3L924.4 140.9M878.0 128.8L877.5 134.1M876.9 154.4L880.0 159.1M880.0 159.1L881.0 152.3M880.0 137.2L878.0 128.8M870.5 128.4L878.0 128.8M867.1 191.7L869.9 193.1M876.9 198.2L881.0 202.0M881.0 202.0L883.4 203.8M872.7 166.7L869.0 163.0M869.0 163.0L874.5 162.1M873.5 178.2L867.1 177.8M867.1 177.8L871.8 174.1M880.0 160.1L880.0 159.1M930.0 158.7L933.9 157.4M922.0 143.0L926.0 141.0M926.0 141.0L930.0 143.5M934.0 150.5L934.0 155.0M934.0 155.0L930.0 157.0M792.0 140.5L788.0 138.0M788.0 138.0L788.0 133.0" stroke="#c840e0" stroke-width="2.8" stroke-linecap="round" fill="none"/>
<path d="M769.0 31.0L773.2 34.2M782.6 34.8L787.8 32.1M787.8 32.1L791.4 33.7M777.9 41.5L778.4 45.7M758.4 68.3L754.0 68.0M763.8 64.5L764.8 60.3M766.9 70.2L771.1 71.8M778.4 45.7L780.5 49.4M785.8 73.5L788.0 77.0M788.0 77.0L790.5 78.6M786.8 71.8L788.4 68.9M817.0 41.2L820.0 43.0M883.7 22.4L880.0 24.8M880.0 24.8L876.4 25.4M861.2 31.1L858.0 32.1M858.0 32.1L854.0 33.8M885.9 12.3L886.6 16.1M890.5 19.6L893.6 19.2M889.5 22.9L891.5 25.9M891.5 25.9L893.6 29.6M910.9 51.5L908.2 55.1M908.2 55.1L906.7 59.3M909.3 78.1L911.4 82.3M911.4 82.3L913.5 85.9M918.8 89.8L922.0 90.0M910.0 42.0L911.8 44.9M916.8 48.1L920.0 48.5M879.0 56.2L882.6 58.1M777.3 91.2L776.3 94.4M776.3 94.4L776.3 100.2M774.2 110.1L772.1 114.2M772.1 114.2L769.0 118.9M760.2 130.9L759.6 134.1M772.0 86.0L775.2 87.0M781.7 89.0L785.0 90.0M772.1 114.2L776.3 118.4M785.2 125.7L789.9 128.8M789.9 128.8L792.5 131.9M810.8 139.3L813.9 137.2M794.1 151.8L792.0 155.0M799.3 150.2L802.4 151.8M809.7 149.2L811.8 157.0M811.8 157.0L813.9 157.6M817.0 160.7L818.1 163.3M809.0 160.0L812.5 159.1M819.0 156.6L822.0 155.0M832.0 161.7L833.4 158.0M913.8 94.2L912.0 97.0M912.0 97.0L908.5 98.5M913.0 86.0L914.3 88.7M918.8 91.4L922.0 91.5M879.0 100.7L880.0 105.9M880.0 105.9L880.5 110.1M887.9 121.6L890.5 124.7M890.5 124.7L892.0 127.3M892.0 135.7L890.5 141.4M890.5 141.4L889.5 144.5M909.3 160.2L907.2 163.3M907.2 163.3L909.4 168.7M887.0 125.0L890.3 127.5M896.3 132.9L899.0 136.0M895.8 128.0L898.0 126.0M920.0 112.0L923.0 115.2M928.5 117.2L931.0 116.0M927.0 122.2L928.0 126.0M872.2 140.4L867.5 141.4M869.9 193.1L872.7 194.5M872.7 194.5L876.9 198.2M909.8 215.4L907.9 219.6M891.0 214.0L893.9 214.4M898.2 209.4L899.6 203.8M904.0 218.6L900.4 216.8M893.1 217.7L889.4 220.5M911.6 187.1L911.6 183.4M911.6 183.4L911.6 178.8M908.0 168.5L909.8 171.3M915.3 172.7L919.0 171.3M797.0 32.0L795.0 36.0M795.0 36.0L790.5 35.0M768.0 151.5L764.0 153.0M764.0 153.0L760.5 150.5M833.0 189.0L836.0 193.0M836.0 193.0L839.0 196.5M903.0 113.0L902.0 117.0M902.0 117.0L897.5 117.5M776.0 84.5L776.0 89.0M776.0 89.0L771.5 90.5M782.0 148.5L786.0 151.0M786.0 151.0L785.0 155.5M840.0 190.0L838.0 194.0" stroke="#f0301c" stroke-width="2.8" stroke-linecap="round" fill="none"/>
<path d="M773.2 34.2L777.4 37.4M777.4 37.4L782.6 34.8M777.4 37.4L777.9 41.5M777.4 37.4L773.7 40.0M767.4 68.2L762.7 68.7M762.7 68.7L758.4 68.3M762.7 68.7L763.8 64.5M762.7 68.7L766.9 70.2M887.4 20.0L883.7 22.4M886.6 16.1L887.4 20.0M887.4 20.0L890.5 19.6M887.4 20.0L889.5 22.9M908.2 45.7L913.5 47.8M913.5 47.8L910.9 51.5M913.5 85.9L915.6 89.6M915.6 89.6L918.8 89.8M911.8 44.9L913.5 47.8M913.5 47.8L916.8 48.1M781.0 86.2L778.4 88.1M778.4 88.1L777.3 91.2M763.3 125.7L760.7 127.8M760.7 127.8L760.2 130.9M775.2 87.0L778.4 88.1M778.4 88.1L781.7 89.0M791.5 145.1L796.2 148.7M796.2 148.7L794.1 151.8M796.2 148.7L799.3 150.2M813.9 157.6L816.0 158.1M816.0 158.1L817.0 160.7M812.5 159.1L816.0 158.1M816.0 158.1L819.0 156.6M915.6 91.3L913.8 94.2M914.3 88.7L915.6 91.3M915.6 91.3L918.8 91.4M892.0 127.3L893.6 129.9M893.6 129.9L892.0 135.7M909.4 168.7L911.6 174.1M890.3 127.5L893.6 129.9M893.6 129.9L896.3 132.9M893.6 129.9L895.8 128.0M926.0 118.4L923.9 120.5M923.0 115.2L926.0 118.4M926.0 118.4L928.5 117.2M926.0 118.4L927.0 122.2M890.3 214.4L896.8 214.9M896.8 214.9L902.3 210.3M893.9 214.4L896.8 214.9M896.8 214.9L898.2 209.4M900.4 216.8L896.8 214.9M896.8 214.9L893.1 217.7M911.6 178.8L911.6 174.1M909.8 171.3L911.6 174.1M911.6 174.1L915.3 172.7M907.5 175.9L911.6 174.1" stroke="#f6dc30" stroke-width="2.8" stroke-linecap="round" fill="none"/>
<defs><radialGradient id="gs" cx="0.4" cy="0.35" r="0.65"><stop offset="0" stop-color="#f8f6f4"/><stop offset="0.5" stop-color="#bcb8b4"/><stop offset="1" stop-color="#85817e"/></radialGradient><radialGradient id="bs" cx="0.4" cy="0.35" r="0.65"><stop offset="0" stop-color="#d8e6ff"/><stop offset="0.5" stop-color="#6a98f4"/><stop offset="1" stop-color="#3a66cc"/></radialGradient></defs>
<circle cx="841.8" cy="159.7" r="9.2" fill="url(#bs)"/>
<circle cx="848.1" cy="172.3" r="7.9" fill="url(#gs)"/>
<rect x="845.1" y="168.8" width="4" height="1.6" rx="0.8" fill="#fff" opacity="0.9"/>
<circle cx="848.1" cy="159.7" r="7.9" fill="url(#gs)"/>
<rect x="845.1" y="156.2" width="4" height="1.6" rx="0.8" fill="#fff" opacity="0.9"/>
<circle cx="846.0" cy="147.2" r="7.9" fill="url(#gs)"/>
<rect x="843.0" y="143.7" width="4" height="1.6" rx="0.8" fill="#fff" opacity="0.9"/>
<circle cx="846.0" cy="134.6" r="7.9" fill="url(#gs)"/>
<rect x="843.0" y="131.1" width="4" height="1.6" rx="0.8" fill="#fff" opacity="0.9"/>
<circle cx="846.0" cy="122.0" r="7.9" fill="url(#gs)"/>
<rect x="843.0" y="118.5" width="4" height="1.6" rx="0.8" fill="#fff" opacity="0.9"/>
<circle cx="846.0" cy="109.5" r="7.9" fill="url(#gs)"/>
<rect x="843.0" y="106.0" width="4" height="1.6" rx="0.8" fill="#fff" opacity="0.9"/>
<circle cx="848.1" cy="96.9" r="7.9" fill="url(#gs)"/>
<rect x="845.1" y="93.4" width="4" height="1.6" rx="0.8" fill="#fff" opacity="0.9"/>
<circle cx="852.3" cy="84.4" r="7.9" fill="url(#gs)"/>
<rect x="849.3" y="80.9" width="4" height="1.6" rx="0.8" fill="#fff" opacity="0.9"/>
<circle cx="858.6" cy="71.8" r="7.9" fill="url(#gs)"/>
<rect x="855.6" y="68.3" width="4" height="1.6" rx="0.8" fill="#fff" opacity="0.9"/>
<circle cx="861.5" cy="65.5" r="7.9" fill="url(#gs)"/>
<rect x="858.5" y="62.0" width="4" height="1.6" rx="0.8" fill="#fff" opacity="0.9"/>
<circle cx="864.5" cy="59.3" r="7.9" fill="url(#gs)"/>
<rect x="861.5" y="55.8" width="4" height="1.6" rx="0.8" fill="#fff" opacity="0.9"/>
<circle cx="865.8" cy="52.0" r="7.9" fill="url(#gs)"/>
<rect x="862.8" y="48.5" width="4" height="1.6" rx="0.8" fill="#fff" opacity="0.9"/>
<circle cx="867.0" cy="44.6" r="7.9" fill="url(#gs)"/>
<rect x="864.0" y="41.1" width="4" height="1.6" rx="0.8" fill="#fff" opacity="0.9"/>
<circle cx="848.1" cy="53.0" r="9.8" fill="url(#bs)"/>
<rect x="844.1" y="48.5" width="5" height="1.8" rx="0.9" fill="#fff" opacity="0.9"/>
<circle cx="873.2" cy="69.7" r="9.8" fill="url(#bs)"/>
<rect x="869.2" y="65.2" width="5" height="1.8" rx="0.9" fill="#fff" opacity="0.9"/>
<circle cx="835.6" cy="80.2" r="9.8" fill="url(#bs)"/>
<rect x="831.6" y="75.7" width="5" height="1.8" rx="0.9" fill="#fff" opacity="0.9"/>
<circle cx="866.1" cy="96.9" r="9.8" fill="url(#bs)"/>
<rect x="862.1" y="92.4" width="5" height="1.8" rx="0.9" fill="#fff" opacity="0.9"/>
<circle cx="833.5" cy="111.6" r="9.8" fill="url(#bs)"/>
<rect x="829.5" y="107.1" width="5" height="1.8" rx="0.9" fill="#fff" opacity="0.9"/>
<circle cx="862.8" cy="128.3" r="9.8" fill="url(#bs)"/>
<rect x="858.8" y="123.8" width="5" height="1.8" rx="0.9" fill="#fff" opacity="0.9"/>
<circle cx="835.6" cy="136.7" r="9.8" fill="url(#bs)"/>
<rect x="831.6" y="132.2" width="5" height="1.8" rx="0.9" fill="#fff" opacity="0.9"/>
<circle cx="858.6" cy="155.5" r="9.8" fill="url(#bs)"/>
<rect x="854.6" y="151.0" width="5" height="1.8" rx="0.9" fill="#fff" opacity="0.9"/>
<circle cx="858.6" cy="184.8" r="9.8" fill="url(#bs)"/>
<rect x="854.6" y="180.3" width="5" height="1.8" rx="0.9" fill="#fff" opacity="0.9"/>
<text transform="translate(951.5,113.6) scale(0.95,1)" font-family='"Liberation Sans", sans-serif' font-size="23.0" font-weight="bold" fill="#f00">c</text>
<defs><filter id="grain" x="0" y="0" width="100%" height="100%"><feTurbulence type="fractalNoise" baseFrequency="0.55" numOctaves="2" seed="3" result="n"/><feColorMatrix type="matrix" values="0 0 0 0 1  0 0 0 0 1  0 0 0 0 1  0.2 0.2 0.2 0 -0.28"/></filter><radialGradient id="spot"><stop offset="0" stop-color="#fff" stop-opacity="0.95"/><stop offset="0.3" stop-color="#ccc" stop-opacity="0.55"/><stop offset="1" stop-color="#777" stop-opacity="0"/></radialGradient><radialGradient id="glow" cx="0.6" cy="0.5" r="0.5"><stop offset="0" stop-color="#666" stop-opacity="0.4"/><stop offset="1" stop-color="#555" stop-opacity="0"/></radialGradient><clipPath id="dclip"><rect x="10" y="242" width="140" height="159"/></clipPath></defs>
<g clip-path="url(#dclip)">
<rect x="10" y="242" width="140" height="159" fill="#141414"/>
<rect x="10" y="242" width="140" height="159" fill="url(#glow)"/>
<rect x="10" y="242" width="140" height="159" filter="url(#grain)"/>
<circle cx="133.3" cy="252.8" r="3.5" fill="url(#spot)" opacity="0.60"/>
<circle cx="106.9" cy="263.4" r="4.9" fill="url(#spot)" opacity="0.80"/>
<circle cx="53.2" cy="285.1" r="4.9" fill="url(#spot)" opacity="0.80"/>
<circle cx="69.4" cy="290.3" r="4.2" fill="url(#spot)" opacity="0.40"/>
<circle cx="143.2" cy="296.2" r="4.2" fill="url(#spot)" opacity="0.35"/>
<circle cx="139.2" cy="326.6" r="4.9" fill="url(#spot)" opacity="0.70"/>
<circle cx="99.7" cy="323.8" r="4.2" fill="url(#spot)" opacity="0.40"/>
<circle cx="89.9" cy="340.8" r="4.9" fill="url(#spot)" opacity="0.55"/>
<circle cx="119.5" cy="339.6" r="4.2" fill="url(#spot)" opacity="0.35"/>
<circle cx="46.5" cy="345.5" r="5.6" fill="url(#spot)" opacity="1.00"/>
<circle cx="73.3" cy="357.4" r="5.6" fill="url(#spot)" opacity="0.90"/>
<circle cx="106.9" cy="363.3" r="4.2" fill="url(#spot)" opacity="0.40"/>
<circle cx="103.7" cy="392.9" r="4.9" fill="url(#spot)" opacity="0.75"/>
<circle cx="85.9" cy="391.0" r="4.2" fill="url(#spot)" opacity="0.35"/>
<circle cx="99.7" cy="308.0" r="4.2" fill="url(#spot)" opacity="0.30"/>
<circle cx="113.6" cy="312.0" r="4.2" fill="url(#spot)" opacity="0.30"/>
</g>
<rect x="5" y="235" width="63" height="27" fill="#fff"/>
<rect x="16.7" y="264.4" width="45" height="2.5" fill="#fff"/>
<text x="5.3" y="252.5" font-family='"Liberation Sans", sans-serif' font-size="17.8" stroke="#000" stroke-width="0.25">10 µm</text>
<rect x="132" y="364" width="18" height="22.5" fill="#fff"/>
<text transform="translate(135.0,383.2) scale(0.95,1)" font-family='"Liberation Sans", sans-serif' font-size="23.0" font-weight="bold" fill="#f00">d</text>
<rect x="242.5" y="242.5" width="214.3" height="145" fill="none" stroke="#585858" stroke-width="1"/>
<line x1="236" y1="371.0" x2="242.5" y2="371.0" stroke="#585858"/>
<line x1="456.8" y1="371.0" x2="462" y2="371.0" stroke="#585858"/>
<text x="234.2" y="376.2" text-anchor="end" font-family='"Liberation Sans", sans-serif' font-size="14.5" letter-spacing="1.1">0</text>
<line x1="236" y1="341.4" x2="242.5" y2="341.4" stroke="#585858"/>
<line x1="456.8" y1="341.4" x2="462" y2="341.4" stroke="#585858"/>
<text x="234.2" y="346.6" text-anchor="end" font-family='"Liberation Sans", sans-serif' font-size="14.5" letter-spacing="1.1">200</text>
<line x1="236" y1="311.8" x2="242.5" y2="311.8" stroke="#585858"/>
<line x1="456.8" y1="311.8" x2="462" y2="311.8" stroke="#585858"/>
<text x="234.2" y="317.0" text-anchor="end" font-family='"Liberation Sans", sans-serif' font-size="14.5" letter-spacing="1.1">400</text>
<line x1="236" y1="282.1" x2="242.5" y2="282.1" stroke="#585858"/>
<line x1="456.8" y1="282.1" x2="462" y2="282.1" stroke="#585858"/>
<text x="234.2" y="287.3" text-anchor="end" font-family='"Liberation Sans", sans-serif' font-size="14.5" letter-spacing="1.1">600</text>
<line x1="236" y1="252.5" x2="242.5" y2="252.5" stroke="#585858"/>
<line x1="456.8" y1="252.5" x2="462" y2="252.5" stroke="#585858"/>
<text x="234.2" y="257.7" text-anchor="end" font-family='"Liberation Sans", sans-serif' font-size="14.5" letter-spacing="1.1">800</text>
<line x1="262.7" y1="387.5" x2="262.7" y2="393" stroke="#585858"/>
<line x1="262.7" y1="237" x2="262.7" y2="242.5" stroke="#585858"/>
<text x="263.3" y="409.7" text-anchor="middle" font-family='"Liberation Sans", sans-serif' font-size="14.5" letter-spacing="1.1">100</text>
<line x1="311.0" y1="387.5" x2="311.0" y2="393" stroke="#585858"/>
<line x1="311.0" y1="237" x2="311.0" y2="242.5" stroke="#585858"/>
<text x="311.6" y="409.7" text-anchor="middle" font-family='"Liberation Sans", sans-serif' font-size="14.5" letter-spacing="1.1">150</text>
<line x1="359.3" y1="387.5" x2="359.3" y2="393" stroke="#585858"/>
<line x1="359.3" y1="237" x2="359.3" y2="242.5" stroke="#585858"/>
<text x="359.9" y="409.7" text-anchor="middle" font-family='"Liberation Sans", sans-serif' font-size="14.5" letter-spacing="1.1">200</text>
<line x1="407.6" y1="387.5" x2="407.6" y2="393" stroke="#585858"/>
<line x1="407.6" y1="237" x2="407.6" y2="242.5" stroke="#585858"/>
<text x="408.2" y="409.7" text-anchor="middle" font-family='"Liberation Sans", sans-serif' font-size="14.5" letter-spacing="1.1">250</text>
<line x1="455.9" y1="387.5" x2="455.9" y2="393" stroke="#585858"/>
<line x1="455.9" y1="237" x2="455.9" y2="242.5" stroke="#585858"/>
<text x="456.5" y="409.7" text-anchor="middle" font-family='"Liberation Sans", sans-serif' font-size="14.5" letter-spacing="1.1">300</text>
<text x="350" y="427.8" text-anchor="middle" font-family='"Liberation Sans", sans-serif' font-size="15.5" letter-spacing="1">Time (s)</text>
<text transform="translate(196,314.1) rotate(-90)" text-anchor="middle" font-family='"Liberation Sans", sans-serif' font-size="16.5" letter-spacing="0.3">Intensity (AU)</text>
<clipPath id="eclip"><rect x="242.5" y="242.5" width="214.3" height="145"/></clipPath>
<polyline clip-path="url(#eclip)" points="242.4,284.1 242.6,301.3 242.8,300.2 243.0,299.4 243.2,296.6 243.4,308.7 243.6,285.5 243.8,303.0 244.0,292.7 244.2,308.5 244.3,294.3 244.5,294.1 244.7,304.1 244.9,274.6 245.1,294.8 245.3,277.9 245.5,288.0 245.7,307.9 245.9,304.6 246.1,294.9 246.3,299.6 246.5,299.9 246.7,304.1 246.9,322.8 247.1,303.7 247.2,328.1 247.4,296.8 247.6,310.3 247.8,310.4 248.0,304.5 248.2,298.7 248.4,319.6 248.6,323.6 248.8,315.5 249.0,327.5 249.2,314.6 249.4,281.2 249.6,311.0 249.8,287.9 249.9,310.1 250.1,287.4 250.3,292.5 250.5,287.0 250.7,277.0 250.9,260.2 251.1,276.8 251.3,277.8 251.5,291.2 251.7,272.3 251.9,282.5 252.1,269.5 252.3,280.2 252.5,258.6 252.7,303.9 252.8,283.5 253.0,269.3 253.2,284.4 253.4,289.8 253.6,283.5 253.8,297.1 254.0,279.0 254.2,250.9 254.4,266.7 254.6,294.2 254.8,291.4 255.0,285.8 255.2,268.8 255.4,291.0 255.6,289.5 255.7,270.5 255.9,272.5 256.1,285.9 256.3,295.0 256.5,300.4 256.7,290.1 256.9,308.8 257.1,272.7 257.3,289.5 257.5,276.1 257.7,259.4 257.9,267.9 258.1,297.1 258.3,273.6 258.4,271.0 258.6,295.2 258.8,298.7 259.0,289.4 259.2,327.5 259.4,310.2 259.6,377.3 259.8,374.1 260.0,369.5 260.2,369.3 260.4,367.1 260.6,366.6 260.8,369.2 261.0,361.8 261.2,379.7 261.3,368.0 261.5,371.9 261.7,367.2 261.9,366.8 262.1,373.0 262.3,371.5 262.5,363.7 262.7,366.1 262.9,371.8 263.1,356.9 263.3,355.4 263.5,376.0 263.7,366.4 263.9,354.3 264.1,363.8 264.2,366.8 264.4,369.2 264.6,371.0 264.8,369.2 265.0,371.0 265.2,364.0 265.4,370.2 265.6,350.5 265.8,336.9 266.0,300.1 266.2,298.9 266.4,290.1 266.6,275.2 266.8,283.3 267.0,281.5 267.1,283.2 267.3,286.8 267.5,288.9 267.7,291.0 267.9,278.0 268.1,300.3 268.3,270.7 268.5,291.6 268.7,295.9 268.9,292.7 269.1,294.9 269.3,284.6 269.5,295.2 269.7,272.5 269.8,295.8 270.0,313.8 270.2,295.0 270.4,315.9 270.6,286.4 270.8,273.0 271.0,277.9 271.2,301.9 271.4,294.8 271.6,263.9 271.8,281.5 272.0,285.2 272.2,272.4 272.4,255.3 272.6,267.3 272.7,279.3 272.9,274.6 273.1,269.3 273.3,282.2 273.5,285.5 273.7,270.0 273.9,280.0 274.1,267.2 274.3,263.2 274.5,236.8 274.7,276.5 274.9,268.5 275.1,269.9 275.3,263.5 275.5,257.0 275.6,276.5 275.8,281.5 276.0,292.3 276.2,284.5 276.4,267.6 276.6,274.5 276.8,288.3 277.0,281.3 277.2,277.3 277.4,272.5 277.6,286.7 277.8,283.4 278.0,303.3 278.2,296.1 278.3,262.9 278.5,304.7 278.7,287.4 278.9,281.1 279.1,288.7 279.3,294.3 279.5,285.6 279.7,285.4 279.9,286.7 280.1,308.9 280.3,288.3 280.5,297.3 280.7,293.9 280.9,284.9 281.1,280.3 281.2,276.7 281.4,293.2 281.6,275.5 281.8,272.0 282.0,283.9 282.2,268.5 282.4,286.7 282.6,286.6 282.8,274.0 283.0,300.2 283.2,280.6 283.4,289.2 283.6,286.8 283.8,303.0 284.0,292.2 284.1,281.2 284.3,269.7 284.5,268.0 284.7,280.6 284.9,281.5 285.1,288.8 285.3,259.1 285.5,280.9 285.7,270.0 285.9,255.7 286.1,276.9 286.3,294.3 286.5,286.1 286.7,292.9 286.9,289.3 287.0,259.2 287.2,272.6 287.4,294.1 287.6,268.0 287.8,260.9 288.0,280.9 288.2,285.0 288.4,281.2 288.6,273.9 288.8,265.6 289.0,263.6 289.2,263.6 289.4,264.2 289.6,262.3 289.7,271.1 289.9,298.1 290.1,281.4 290.3,276.3 290.5,285.0 290.7,269.6 290.9,285.3 291.1,292.5 291.3,264.0 291.5,273.8 291.7,279.5 291.9,271.0 292.1,269.4 292.3,278.3 292.5,312.3 292.6,272.7 292.8,288.2 293.0,294.7 293.2,280.4 293.4,268.5 293.6,288.9 293.8,296.9 294.0,258.6 294.2,288.8 294.4,298.4 294.6,280.6 294.8,278.4 295.0,292.2 295.2,274.1 295.4,289.7 295.5,295.1 295.7,281.8 295.9,274.7 296.1,291.9 296.3,280.3 296.5,285.5 296.7,250.1 296.9,293.1 297.1,267.8 297.3,285.4 297.5,286.3 297.7,276.1 297.9,274.1 298.1,269.7 298.2,281.2 298.4,292.5 298.6,291.9 298.8,279.2 299.0,278.5 299.2,268.6 299.4,280.6 299.6,272.9 299.8,267.5 300.0,284.0 300.2,304.1 300.4,300.5 300.6,303.7 300.8,267.0 301.0,296.7 301.1,271.5 301.3,279.5 301.5,265.8 301.7,274.4 301.9,287.9 302.1,289.1 302.3,285.7 302.5,284.6 302.7,293.2 302.9,287.1 303.1,267.2 303.3,307.5 303.5,283.7 303.7,297.9 303.9,284.6 304.0,276.7 304.2,287.6 304.4,277.5 304.6,306.2 304.8,273.5 305.0,294.3 305.2,279.4 305.4,284.8 305.6,318.4 305.8,296.3 306.0,284.4 306.2,268.2 306.4,287.8 306.6,284.0 306.7,304.3 306.9,269.8 307.1,290.9 307.3,286.9 307.5,289.9 307.7,306.9 307.9,276.6 308.1,254.5 308.3,278.6 308.5,272.0 308.7,280.8 308.9,299.4 309.1,271.2 309.3,302.4 309.5,290.0 309.6,284.1 309.8,276.8 310.0,282.5 310.2,282.9 310.4,296.8 310.6,303.3 310.8,286.9 311.0,296.3 311.2,303.5 311.4,303.1 311.6,293.7 311.8,303.0 312.0,304.1 312.2,307.6 312.4,285.6 312.5,282.9 312.7,263.5 312.9,306.0 313.1,296.1 313.3,276.8 313.5,290.5 313.7,291.9 313.9,267.2 314.1,292.1 314.3,300.1 314.5,304.0 314.7,284.0 314.9,284.4 315.1,304.7 315.3,300.1 315.4,281.6 315.6,281.1 315.8,296.0 316.0,280.6 316.2,281.3 316.4,309.9 316.6,292.0 316.8,283.2 317.0,295.3 317.2,314.3 317.4,291.8 317.6,279.2 317.8,269.2 318.0,321.8 318.1,256.7 318.3,302.1 318.5,276.8 318.7,273.5 318.9,276.6 319.1,286.7 319.3,302.7 319.5,281.0 319.7,297.3 319.9,319.3 320.1,254.3 320.3,280.1 320.5,266.6 320.7,299.8 320.9,270.9 321.0,269.4 321.2,272.5 321.4,289.0 321.6,303.4 321.8,291.0 322.0,315.6 322.2,309.5 322.4,287.8 322.6,301.0 322.8,290.9 323.0,290.3 323.2,265.5 323.4,273.2 323.6,289.6 323.8,274.4 323.9,298.5 324.1,293.2 324.3,278.0 324.5,304.2 324.7,292.5 324.9,305.2 325.1,287.8 325.3,269.4 325.5,298.4 325.7,286.5 325.9,300.2 326.1,303.3 326.3,304.3 326.5,271.7 326.6,260.7 326.8,283.5 327.0,298.1 327.2,280.9 327.4,293.5 327.6,279.7 327.8,285.9 328.0,286.1 328.2,282.1 328.4,296.6 328.6,294.5 328.8,310.5 329.0,295.0 329.2,306.9 329.4,291.4 329.5,301.3 329.7,288.5 329.9,284.2 330.1,307.0 330.3,299.6 330.5,301.2 330.7,280.7 330.9,269.1 331.1,279.5 331.3,294.1 331.5,272.1 331.7,308.3 331.9,271.7 332.1,297.9 332.3,323.7 332.4,257.8 332.6,270.8 332.8,302.6 333.0,288.0 333.2,292.7 333.4,288.9 333.6,308.1 333.8,298.4 334.0,284.5 334.2,287.5 334.4,275.6 334.6,289.3 334.8,261.7 335.0,299.0 335.2,287.1 335.3,313.6 335.5,305.5 335.7,274.2 335.9,301.8 336.1,283.9 336.3,291.2 336.5,303.1 336.7,294.7 336.9,296.7 337.1,296.4 337.3,281.4 337.5,282.6 337.7,297.6 337.9,301.6 338.0,287.2 338.2,291.8 338.4,278.2 338.6,258.4 338.8,283.3 339.0,291.1 339.2,292.8 339.4,301.2 339.6,301.8 339.8,303.0 340.0,295.6 340.2,296.4 340.4,281.8 340.6,295.7 340.8,293.3 340.9,305.7 341.1,271.0 341.3,284.8 341.5,291.4 341.7,281.3 341.9,272.9 342.1,308.6 342.3,283.6 342.5,260.2 342.7,308.6 342.9,280.1 343.1,274.4 343.3,290.6 343.5,287.1 343.7,281.5 343.8,305.8 344.0,306.6 344.2,309.8 344.4,308.1 344.6,308.0 344.8,302.8 345.0,299.9 345.2,296.7 345.4,320.6 345.6,279.1 345.8,290.0 346.0,303.6 346.2,308.8 346.4,305.5 346.5,297.6 346.7,299.3 346.9,325.3 347.1,295.2 347.3,268.1 347.5,327.4 347.7,292.1 347.9,299.9 348.1,305.9 348.3,287.4 348.5,319.2 348.7,302.5 348.9,286.3 349.1,307.0 349.3,309.8 349.4,303.1 349.6,310.1 349.8,285.3 350.0,315.9 350.2,293.7 350.4,320.2 350.6,296.3 350.8,305.9 351.0,336.9 351.2,304.7 351.4,318.0 351.6,310.2 351.8,285.5 352.0,318.6 352.2,317.9 352.3,286.7 352.5,303.3 352.7,285.5 352.9,300.7 353.1,315.8 353.3,305.6 353.5,289.4 353.7,293.0 353.9,304.8 354.1,304.2 354.3,306.2 354.5,312.1 354.7,280.7 354.9,304.8 355.0,319.0 355.2,310.8 355.4,295.8 355.6,296.9 355.8,306.6 356.0,313.3 356.2,304.6 356.4,325.8 356.6,321.2 356.8,295.0 357.0,311.0 357.2,300.3 357.4,289.8 357.6,296.9 357.8,304.8 357.9,278.5 358.1,296.7 358.3,309.5 358.5,295.9 358.7,300.0 358.9,315.8 359.1,304.2 359.3,307.2 359.5,329.7 359.7,307.3 359.9,308.7 360.1,310.6 360.3,325.7 360.5,309.6 360.7,305.7 360.8,310.2 361.0,319.4 361.2,297.3 361.4,320.4 361.6,308.0 361.8,288.9 362.0,313.9 362.2,311.6 362.4,298.7 362.6,310.1 362.8,309.0 363.0,302.5 363.2,292.2 363.4,332.8 363.6,315.7 363.7,317.9 363.9,318.9 364.1,316.0 364.3,315.8 364.5,301.6 364.7,316.5 364.9,303.9 365.1,300.4 365.3,314.5 365.5,303.8 365.7,285.1 365.9,301.4 366.1,313.4 366.3,306.3 366.4,316.9 366.6,302.1 366.8,294.8 367.0,315.7 367.2,308.1 367.4,291.7 367.6,311.7 367.8,303.2 368.0,318.3 368.2,315.7 368.4,311.9 368.6,279.2 368.8,310.6 369.0,312.1 369.2,312.5 369.3,307.7 369.5,297.7 369.7,292.9 369.9,280.7 370.1,303.1 370.3,288.1 370.5,302.3 370.7,298.4 370.9,323.3 371.1,307.3 371.3,298.5 371.5,308.7 371.7,331.9 371.9,295.1 372.1,310.5 372.2,311.1 372.4,308.9 372.6,308.6 372.8,300.9 373.0,321.0 373.2,316.7 373.4,301.6 373.6,303.1 373.8,309.2 374.0,311.4 374.2,314.3 374.4,304.6 374.6,289.4 374.8,316.3 374.9,284.7 375.1,292.7 375.3,308.3 375.5,293.0 375.7,320.1 375.9,323.1 376.1,317.5 376.3,306.5 376.5,305.3 376.7,307.4 376.9,299.7 377.1,326.6 377.3,294.4 377.5,317.4 377.7,307.9 377.8,304.7 378.0,313.5 378.2,315.9 378.4,311.2 378.6,298.9 378.8,291.3 379.0,291.4 379.2,310.1 379.4,307.4 379.6,308.7 379.8,291.8 380.0,321.8 380.2,281.8 380.4,302.5 380.6,305.9 380.7,292.0 380.9,283.3 381.1,291.5 381.3,282.6 381.5,293.5 381.7,280.0 381.9,279.6 382.1,295.7 382.3,276.7 382.5,292.0 382.7,292.8 382.9,305.0 383.1,297.2 383.3,284.1 383.5,309.4 383.6,285.5 383.8,289.0 384.0,289.8 384.2,319.9 384.4,294.2 384.6,285.0 384.8,302.0 385.0,291.6 385.2,321.4 385.4,279.5 385.6,300.4 385.8,281.7 386.0,314.5 386.2,283.6 386.3,294.8 386.5,282.0 386.7,303.0 386.9,299.1 387.1,264.3 387.3,301.5 387.5,299.9 387.7,294.6 387.9,303.5 388.1,276.6 388.3,292.5 388.5,344.4 388.7,379.3 388.9,363.1 389.1,363.5 389.2,365.0 389.4,363.2 389.6,374.3 389.8,370.4 390.0,377.1 390.2,377.3 390.4,364.2 390.6,373.2 390.8,357.1 391.0,369.1 391.2,373.0 391.4,365.2 391.6,359.7 391.8,366.9 392.0,376.2 392.1,367.5 392.3,362.0 392.5,372.2 392.7,373.7 392.9,364.0 393.1,368.8 393.3,375.5 393.5,371.6 393.7,373.6 393.9,367.9 394.1,368.9 394.3,363.2 394.5,365.6 394.7,378.1 394.8,367.3 395.0,364.6 395.2,367.0 395.4,363.9 395.6,372.5 395.8,374.7 396.0,364.4 396.2,375.3 396.4,381.3 396.6,363.9 396.8,373.5 397.0,371.2 397.2,377.2 397.4,376.8 397.6,375.4 397.7,349.5 397.9,324.3 398.1,334.5 398.3,297.2 398.5,302.4 398.7,300.9 398.9,279.7 399.1,288.8 399.3,306.4 399.5,265.3 399.7,298.1 399.9,284.6 400.1,285.1 400.3,270.3 400.5,292.9 400.6,275.1 400.8,296.3 401.0,273.6 401.2,296.4 401.4,291.5 401.6,264.0 401.8,283.1 402.0,285.6 402.2,259.6 402.4,282.4 402.6,296.6 402.8,277.7 403.0,300.9 403.2,272.8 403.3,271.8 403.5,293.4 403.7,294.0 403.9,277.8 404.1,286.1 404.3,298.0 404.5,279.2 404.7,310.8 404.9,291.2 405.1,290.8 405.3,289.2 405.5,282.1 405.7,300.6 405.9,278.5 406.1,287.8 406.2,287.8 406.4,302.1 406.6,299.8 406.8,281.0 407.0,297.0 407.2,284.4 407.4,272.3 407.6,272.6 407.8,266.2 408.0,288.7 408.2,298.3 408.4,272.7 408.6,281.4 408.8,271.5 409.0,285.1 409.1,270.7 409.3,274.9 409.5,276.5 409.7,279.1 409.9,280.4 410.1,282.4 410.3,282.5 410.5,273.3 410.7,291.5 410.9,264.2 411.1,286.6 411.3,273.4 411.5,286.4 411.7,288.3 411.9,260.7 412.0,289.1 412.2,300.9 412.4,294.1 412.6,289.3 412.8,259.2 413.0,282.9 413.2,274.1 413.4,297.6 413.6,281.2 413.8,277.3 414.0,263.6 414.2,294.0 414.4,278.2 414.6,281.9 414.7,297.9 414.9,285.8 415.1,288.8 415.3,313.8 415.5,278.3 415.7,279.0 415.9,290.9 416.1,301.9 416.3,267.7 416.5,282.4 416.7,273.3 416.9,268.5 417.1,292.0 417.3,275.8 417.5,288.6 417.6,286.5 417.8,286.8 418.0,285.8 418.2,272.2 418.4,284.3 418.6,287.6 418.8,289.1 419.0,281.7 419.2,296.7 419.4,291.9 419.6,286.5 419.8,292.7 420.0,278.7 420.2,293.3 420.4,261.5 420.5,269.8 420.7,280.4 420.9,286.6 421.1,259.3 421.3,282.0 421.5,287.0 421.7,282.3 421.9,282.3 422.1,268.9 422.3,286.2 422.5,260.5 422.7,296.7 422.9,277.6 423.1,298.2 423.2,264.0 423.4,290.1 423.6,286.8 423.8,274.9 424.0,270.9 424.2,299.6 424.4,290.3 424.6,303.1 424.8,284.5 425.0,287.4 425.2,290.4 425.4,294.5 425.6,290.9 425.8,295.3 426.0,279.8 426.1,267.8 426.3,309.7 426.5,287.7 426.7,291.4 426.9,280.3 427.1,297.9 427.3,288.1 427.5,298.9 427.7,277.9 427.9,285.1 428.1,289.9 428.3,281.9 428.5,289.4 428.7,285.6 428.9,279.2 429.0,282.9 429.2,288.3 429.4,274.5 429.6,271.7 429.8,299.7 430.0,296.0 430.2,267.7 430.4,269.3 430.6,295.5 430.8,300.9 431.0,311.1 431.2,292.6 431.4,305.8 431.6,286.2 431.8,302.1 431.9,301.3 432.1,275.5 432.3,294.9 432.5,287.5 432.7,279.0 432.9,276.8 433.1,290.8 433.3,286.1 433.5,296.7 433.7,265.5 433.9,278.8 434.1,300.1 434.3,314.6 434.5,278.1 434.6,280.9 434.8,264.6 435.0,270.1 435.2,293.3 435.4,287.9 435.6,302.4 435.8,283.8 436.0,276.0 436.2,254.0 436.4,272.6 436.6,312.3 436.8,295.1 437.0,285.5 437.2,302.2 437.4,297.5 437.5,291.4 437.7,282.8 437.9,289.0 438.1,297.8 438.3,277.4 438.5,293.6 438.7,293.1 438.9,303.8 439.1,296.6 439.3,279.1 439.5,306.7 439.7,287.9 439.9,278.4 440.1,291.7 440.3,284.2 440.4,300.7 440.6,271.2 440.8,273.8 441.0,284.3 441.2,308.5 441.4,299.9 441.6,275.3 441.8,266.4 442.0,283.6 442.2,272.1 442.4,294.6 442.6,289.5 442.8,287.2 443.0,282.1 443.1,305.8 443.3,275.9 443.5,271.2 443.7,301.3 443.9,303.8 444.1,283.1 444.3,295.3 444.5,316.2 444.7,277.6 444.9,285.5 445.1,293.2 445.3,261.7 445.5,285.7 445.7,296.6 445.9,286.2 446.0,300.1 446.2,296.7 446.4,282.8 446.6,294.2 446.8,293.0 447.0,267.3 447.2,277.1 447.4,277.8 447.6,281.1 447.8,281.7 448.0,269.9 448.2,287.8 448.4,265.1 448.6,299.2 448.8,290.7 448.9,304.4 449.1,291.8 449.3,281.4 449.5,270.0 449.7,295.7 449.9,287.6 450.1,292.1 450.3,296.7 450.5,302.2 450.7,287.0 450.9,308.8 451.1,286.4 451.3,287.5 451.5,295.8 451.6,300.1 451.8,304.6 452.0,265.1 452.2,304.1 452.4,268.9 452.6,280.6 452.8,292.3 453.0,301.9 453.2,275.2 453.4,266.9 453.6,299.3 453.8,285.6 454.0,275.2 454.2,283.9 454.4,263.7 454.5,294.9 454.7,281.4 454.9,303.2 455.1,262.6 455.3,296.9 455.5,304.4 455.7,319.2 455.9,336.9" fill="none" stroke="#000" stroke-width="1.15" stroke-linejoin="bevel"/>
<text transform="translate(430.6,372.2) scale(0.85,1)" font-family='"Liberation Sans", sans-serif' font-size="26.5" font-weight="bold" fill="#f00">e</text>
<rect x="544" y="244" width="190.2" height="140.4" fill="none" stroke="#585858" stroke-width="1"/>
<line x1="540.5" y1="374.2" x2="544" y2="374.2" stroke="#585858"/>
<line x1="734.2" y1="374.2" x2="737.7" y2="374.2" stroke="#585858"/>
<line x1="538.0" y1="352.7" x2="544" y2="352.7" stroke="#585858"/>
<line x1="734.2" y1="352.7" x2="740.2" y2="352.7" stroke="#585858"/>
<text x="537.5" y="357.9" text-anchor="end" font-family='"Liberation Sans", sans-serif' font-size="14.5" letter-spacing="1.1">0</text>
<line x1="540.5" y1="331.2" x2="544" y2="331.2" stroke="#585858"/>
<line x1="734.2" y1="331.2" x2="737.7" y2="331.2" stroke="#585858"/>
<line x1="538.0" y1="309.7" x2="544" y2="309.7" stroke="#585858"/>
<line x1="734.2" y1="309.7" x2="740.2" y2="309.7" stroke="#585858"/>
<text x="537.5" y="314.9" text-anchor="end" font-family='"Liberation Sans", sans-serif' font-size="14.5" letter-spacing="1.1">20</text>
<line x1="540.5" y1="288.2" x2="544" y2="288.2" stroke="#585858"/>
<line x1="734.2" y1="288.2" x2="737.7" y2="288.2" stroke="#585858"/>
<line x1="538.0" y1="266.7" x2="544" y2="266.7" stroke="#585858"/>
<line x1="734.2" y1="266.7" x2="740.2" y2="266.7" stroke="#585858"/>
<text x="537.5" y="271.9" text-anchor="end" font-family='"Liberation Sans", sans-serif' font-size="14.5" letter-spacing="1.1">40</text>
<line x1="540.5" y1="245.2" x2="544" y2="245.2" stroke="#585858"/>
<line x1="734.2" y1="245.2" x2="737.7" y2="245.2" stroke="#585858"/>
<line x1="557.9" y1="384.4" x2="557.9" y2="390" stroke="#585858"/>
<line x1="557.9" y1="238.5" x2="557.9" y2="244" stroke="#585858"/>
<text x="558.5" y="407.3" text-anchor="middle" font-family='"Liberation Sans", sans-serif' font-size="14.5" letter-spacing="1.1">500</text>
<line x1="607.5" y1="384.4" x2="607.5" y2="390" stroke="#585858"/>
<line x1="607.5" y1="238.5" x2="607.5" y2="244" stroke="#585858"/>
<text x="608.1" y="407.3" text-anchor="middle" font-family='"Liberation Sans", sans-serif' font-size="14.5" letter-spacing="1.1">600</text>
<line x1="657.2" y1="384.4" x2="657.2" y2="390" stroke="#585858"/>
<line x1="657.2" y1="238.5" x2="657.2" y2="244" stroke="#585858"/>
<text x="657.8" y="407.3" text-anchor="middle" font-family='"Liberation Sans", sans-serif' font-size="14.5" letter-spacing="1.1">700</text>
<line x1="706.8" y1="384.4" x2="706.8" y2="390" stroke="#585858"/>
<line x1="706.8" y1="238.5" x2="706.8" y2="244" stroke="#585858"/>
<text x="707.4" y="407.3" text-anchor="middle" font-family='"Liberation Sans", sans-serif' font-size="14.5" letter-spacing="1.1">800</text>
<text x="639.8" y="424.9" text-anchor="middle" font-family='"Liberation Sans", sans-serif' font-size="14.5" letter-spacing="0.5">Wavelength (nm)</text>
<text transform="translate(515,312) rotate(-90)" text-anchor="middle" font-family='"Liberation Sans", sans-serif' font-size="16.5" letter-spacing="0.3">Intensity (AU)</text>
<clipPath id="fclip"><rect x="544" y="244" width="190.2" height="140.4"/></clipPath>
<polyline clip-path="url(#fclip)" points="544.5,374.0 544.9,353.3 545.2,360.1 545.6,347.5 546.0,365.2 546.4,358.2 546.7,364.6 547.1,365.7 547.5,344.8 547.8,358.6 548.2,347.8 548.6,366.3 549.0,352.0 549.3,373.1 549.7,372.6 550.1,359.1 550.5,346.3 550.8,351.0 551.2,355.2 551.6,343.3 551.9,350.9 552.3,346.8 552.7,344.1 553.1,354.0 553.4,356.7 553.8,349.3 554.2,358.1 554.5,348.6 554.9,340.1 555.3,343.1 555.7,357.7 556.0,368.4 556.4,353.9 556.8,354.7 557.2,340.2 557.5,357.8 557.9,355.7 558.3,344.6 558.6,358.9 559.0,355.1 559.4,333.0 559.8,335.7 560.1,345.8 560.5,350.1 560.9,364.7 561.3,346.7 561.6,352.6 562.0,350.7 562.4,359.4 562.7,353.4 563.1,355.4 563.5,349.5 563.9,336.4 564.2,349.0 564.6,372.8 565.0,364.7 565.3,372.0 565.7,362.6 566.1,346.7 566.5,348.5 566.8,360.3 567.2,350.1 567.6,366.1 568.0,370.0 568.3,369.9 568.7,363.4 569.1,336.5 569.4,369.1 569.8,338.6 570.2,337.6 570.6,355.4 570.9,353.9 571.3,360.5 571.7,353.6 572.1,345.5 572.4,353.2 572.8,341.5 573.2,339.3 573.5,349.2 573.9,349.4 574.3,354.0 574.7,349.2 575.0,366.5 575.4,348.5 575.8,350.9 576.1,363.5 576.5,327.9 576.9,364.8 577.3,363.6 577.6,350.0 578.0,376.2 578.4,362.7 578.8,371.3 579.1,364.3 579.5,335.3 579.9,349.6 580.2,340.3 580.6,343.8 581.0,339.3 581.4,346.4 581.7,358.9 582.1,340.2 582.5,359.1 582.8,360.6 583.2,335.3 583.6,344.0 584.0,350.8 584.3,344.5 584.7,343.0 585.1,369.4 585.5,354.5 585.8,367.3 586.2,351.9 586.6,361.3 586.9,337.3 587.3,347.2 587.7,362.9 588.1,353.6 588.4,367.7 588.8,352.9 589.2,346.9 589.6,350.2 589.9,376.2 590.3,357.3 590.7,347.4 591.0,349.7 591.4,339.7 591.8,368.6 592.2,347.2 592.5,361.1 592.9,351.1 593.3,348.6 593.6,345.3 594.0,360.2 594.4,351.2 594.8,367.2 595.1,370.0 595.5,346.8 595.9,354.0 596.3,372.5 596.6,363.4 597.0,353.2 597.4,335.0 597.7,327.1 598.1,343.9 598.5,374.5 598.9,354.5 599.2,347.7 599.6,348.7 600.0,348.5 600.4,356.1 600.7,332.6 601.1,335.9 601.5,354.5 601.8,365.0 602.2,329.1 602.6,359.9 603.0,339.2 603.3,330.8 603.7,364.5 604.1,349.9 604.4,357.5 604.8,347.3 605.2,349.6 605.6,330.4 605.9,346.4 606.3,353.5 606.7,340.1 607.1,356.6 607.4,357.7 607.8,326.9 608.2,363.0 608.5,359.1 608.9,352.8 609.3,365.8 609.7,378.2 610.0,340.7 610.4,362.4 610.8,359.5 611.1,357.5 611.5,364.6 611.9,365.6 612.3,350.9 612.6,324.4 613.0,343.9 613.4,343.7 613.8,370.1 614.1,352.4 614.5,365.9 614.9,342.6 615.2,354.1 615.6,350.7 616.0,351.8 616.4,341.5 616.7,367.9 617.1,342.6 617.5,365.2 617.9,362.2 618.2,351.1 618.6,355.2 619.0,342.9 619.3,333.1 619.7,341.1 620.1,340.6 620.5,341.5 620.8,330.3 621.2,360.9 621.6,312.2 621.9,347.0 622.3,348.8 622.7,332.3 623.1,335.0 623.4,321.5 623.8,313.2 624.2,351.5 624.6,322.5 624.9,296.0 625.3,306.4 625.7,296.9 626.0,310.2 626.4,325.6 626.8,279.4 627.2,294.7 627.5,289.0 627.9,306.2 628.3,297.9 628.7,288.9 629.0,311.2 629.4,290.9 629.8,265.1 630.1,256.0 630.5,280.9 630.9,255.8 631.3,287.8 631.6,283.4 632.0,298.7 632.4,259.5 632.7,274.1 633.1,241.1 633.5,264.1 633.9,265.4 634.2,288.8 634.6,249.7 635.0,272.0 635.4,270.2 635.7,295.1 636.1,259.1 636.5,259.6 636.8,279.9 637.2,273.2 637.6,271.5 638.0,266.8 638.3,279.8 638.7,262.3 639.1,287.9 639.5,294.8 639.8,295.7 640.2,322.9 640.6,305.2 640.9,287.8 641.3,298.1 641.7,313.7 642.1,302.6 642.4,333.4 642.8,308.4 643.2,308.6 643.5,309.2 643.9,329.1 644.3,311.6 644.7,302.6 645.0,331.9 645.4,320.3 645.8,349.5 646.2,356.1 646.5,327.5 646.9,335.9 647.3,335.6 647.6,359.3 648.0,344.3 648.4,332.5 648.8,322.9 649.1,346.9 649.5,364.8 649.9,331.1 650.2,339.9 650.6,339.7 651.0,360.6 651.4,321.5 651.7,348.6 652.1,343.9 652.5,372.4 652.9,357.7 653.2,359.3 653.6,351.8 654.0,347.6 654.3,360.8 654.7,331.6 655.1,364.9 655.5,357.8 655.8,349.8 656.2,367.5 656.6,346.0 657.0,345.4 657.3,356.4 657.7,330.4 658.1,352.1 658.4,349.8 658.8,364.5 659.2,373.0 659.6,373.6 659.9,357.0 660.3,358.6 660.7,344.1 661.0,381.5 661.4,366.7 661.8,374.9 662.2,337.4 662.5,360.0 662.9,359.4 663.3,366.3 663.7,342.6 664.0,358.2 664.4,373.0 664.8,377.4 665.1,339.4 665.5,348.6 665.9,346.8 666.3,338.7 666.6,359.9 667.0,355.3 667.4,344.8 667.8,348.2 668.1,347.7 668.5,358.6 668.9,359.3 669.2,344.8 669.6,342.2 670.0,353.2 670.4,331.0 670.7,371.5 671.1,356.0 671.5,333.0 671.8,358.3 672.2,372.2 672.6,336.7 673.0,346.8 673.3,367.4 673.7,344.1 674.1,365.4 674.5,369.2 674.8,355.1 675.2,359.0 675.6,366.3 675.9,357.6 676.3,365.2 676.7,352.6 677.1,353.5 677.4,344.4 677.8,358.7 678.2,369.0 678.5,368.9 678.9,356.2 679.3,335.1 679.7,343.2 680.0,360.9 680.4,342.1 680.8,367.0 681.2,341.2 681.5,357.8 681.9,344.1 682.3,345.9 682.6,356.5 683.0,372.2 683.4,365.9 683.8,354.1 684.1,340.4 684.5,304.7 684.9,344.9 685.3,352.2 685.6,365.3 686.0,340.7 686.4,372.9 686.7,362.8 687.1,349.0 687.5,367.5 687.9,335.0 688.2,340.3 688.6,360.0 689.0,359.8 689.3,368.9 689.7,369.9 690.1,348.0 690.5,345.8 690.8,349.1 691.2,350.1 691.6,359.9 692.0,349.0 692.3,370.7 692.7,353.1 693.1,335.8 693.4,337.6 693.8,358.7 694.2,357.2 694.6,336.9 694.9,332.0 695.3,371.0 695.7,358.3 696.1,350.5 696.4,338.8 696.8,363.2 697.2,345.6 697.5,356.8 697.9,325.0 698.3,348.1 698.7,354.8 699.0,357.2 699.4,340.7 699.8,345.2 700.1,366.1 700.5,350.7 700.9,369.1 701.3,362.2 701.6,368.6 702.0,369.0 702.4,361.4 702.8,364.9 703.1,347.0 703.5,343.8 703.9,356.1 704.2,366.5 704.6,343.7 705.0,377.3 705.4,376.2 705.7,344.6 706.1,345.4 706.5,341.7 706.8,355.8 707.2,368.2 707.6,359.3 708.0,346.5 708.3,362.3 708.7,361.6 709.1,369.8 709.5,367.0 709.8,343.2 710.2,347.8 710.6,367.0 710.9,366.1 711.3,359.9 711.7,346.7 712.1,367.1 712.4,349.0 712.8,378.7 713.2,368.2 713.6,348.2 713.9,342.6 714.3,367.0 714.7,362.4 715.0,343.8 715.4,357.9 715.8,359.7 716.2,347.1 716.5,350.9 716.9,322.8 717.3,343.8 717.6,360.1 718.0,354.6 718.4,353.9 718.8,369.3 719.1,364.8 719.5,341.7 719.9,372.1 720.3,341.4 720.6,349.8 721.0,354.9 721.4,346.8 721.7,347.6 722.1,338.9 722.5,358.0 722.9,355.9 723.2,356.1 723.6,330.9 724.0,342.0 724.4,364.2 724.7,357.2 725.1,342.5 725.5,353.0 725.8,350.7 726.2,326.0 726.6,374.8 727.0,341.0 727.3,348.0 727.7,361.5 728.1,355.0 728.4,359.1 728.8,352.6 729.2,341.2 729.6,371.2 729.9,337.6 730.3,357.6 730.7,335.3 731.1,348.3 731.4,338.5 731.8,346.4 732.2,340.3 732.5,352.5 732.9,372.5 733.3,345.2 733.7,344.7 734.0,328.2" fill="none" stroke="#000" stroke-width="1.0" stroke-linejoin="bevel"/>
<polyline points="544.5,352.7 544.9,352.7 545.2,352.7 545.6,352.7 546.0,352.7 546.4,352.7 546.7,352.7 547.1,352.7 547.5,352.7 547.8,352.7 548.2,352.7 548.6,352.7 549.0,352.7 549.3,352.7 549.7,352.7 550.1,352.7 550.5,352.7 550.8,352.7 551.2,352.7 551.6,352.7 551.9,352.7 552.3,352.7 552.7,352.7 553.1,352.7 553.4,352.7 553.8,352.7 554.2,352.7 554.5,352.7 554.9,352.7 555.3,352.7 555.7,352.7 556.0,352.7 556.4,352.7 556.8,352.7 557.2,352.7 557.5,352.7 557.9,352.7 558.3,352.7 558.6,352.7 559.0,352.7 559.4,352.7 559.8,352.7 560.1,352.7 560.5,352.7 560.9,352.7 561.3,352.7 561.6,352.7 562.0,352.7 562.4,352.7 562.7,352.7 563.1,352.7 563.5,352.7 563.9,352.7 564.2,352.7 564.6,352.7 565.0,352.7 565.3,352.7 565.7,352.7 566.1,352.7 566.5,352.7 566.8,352.7 567.2,352.7 567.6,352.7 568.0,352.7 568.3,352.7 568.7,352.7 569.1,352.7 569.4,352.7 569.8,352.7 570.2,352.7 570.6,352.7 570.9,352.7 571.3,352.7 571.7,352.7 572.1,352.7 572.4,352.7 572.8,352.7 573.2,352.7 573.5,352.7 573.9,352.7 574.3,352.7 574.7,352.7 575.0,352.7 575.4,352.7 575.8,352.7 576.1,352.7 576.5,352.7 576.9,352.7 577.3,352.7 577.6,352.7 578.0,352.7 578.4,352.7 578.8,352.7 579.1,352.7 579.5,352.7 579.9,352.7 580.2,352.7 580.6,352.7 581.0,352.7 581.4,352.7 581.7,352.7 582.1,352.7 582.5,352.7 582.8,352.7 583.2,352.7 583.6,352.7 584.0,352.7 584.3,352.7 584.7,352.7 585.1,352.7 585.5,352.7 585.8,352.7 586.2,352.7 586.6,352.7 586.9,352.7 587.3,352.7 587.7,352.7 588.1,352.7 588.4,352.7 588.8,352.7 589.2,352.7 589.6,352.7 589.9,352.7 590.3,352.7 590.7,352.7 591.0,352.7 591.4,352.7 591.8,352.7 592.2,352.7 592.5,352.7 592.9,352.7 593.3,352.7 593.6,352.7 594.0,352.7 594.4,352.7 594.8,352.7 595.1,352.7 595.5,352.7 595.9,352.7 596.3,352.7 596.6,352.7 597.0,352.7 597.4,352.7 597.7,352.7 598.1,352.7 598.5,352.7 598.9,352.7 599.2,352.7 599.6,352.7 600.0,352.7 600.4,352.7 600.7,352.7 601.1,352.7 601.5,352.7 601.8,352.7 602.2,352.7 602.6,352.7 603.0,352.7 603.3,352.7 603.7,352.7 604.1,352.7 604.4,352.7 604.8,352.7 605.2,352.7 605.6,352.7 605.9,352.7 606.3,352.7 606.7,352.7 607.1,352.7 607.4,352.7 607.8,352.6 608.2,352.6 608.5,352.6 608.9,352.6 609.3,352.6 609.7,352.5 610.0,352.5 610.4,352.5 610.8,352.4 611.1,352.4 611.5,352.3 611.9,352.2 612.3,352.1 612.6,352.0 613.0,351.9 613.4,351.8 613.8,351.6 614.1,351.5 614.5,351.2 614.9,351.0 615.2,350.7 615.6,350.4 616.0,350.1 616.4,349.7 616.7,349.2 617.1,348.7 617.5,348.2 617.9,347.6 618.2,346.9 618.6,346.1 619.0,345.3 619.3,344.4 619.7,343.4 620.1,342.3 620.5,341.1 620.8,339.8 621.2,338.4 621.6,336.9 621.9,335.2 622.3,333.5 622.7,331.7 623.1,329.7 623.4,327.7 623.8,325.5 624.2,323.3 624.6,320.9 624.9,318.5 625.3,315.9 625.7,313.3 626.0,310.7 626.4,307.9 626.8,305.2 627.2,302.4 627.5,299.6 627.9,296.8 628.3,294.1 628.7,291.3 629.0,288.7 629.4,286.1 629.8,283.6 630.1,281.2 630.5,278.9 630.9,276.8 631.3,274.9 631.6,273.1 632.0,271.5 632.4,270.1 632.7,269.0 633.1,268.1 633.5,267.4 633.9,266.9 634.2,266.7 634.6,266.8 635.0,267.0 635.4,267.6 635.7,268.3 636.1,269.3 636.5,270.6 636.8,272.0 637.2,273.7 637.6,275.5 638.0,277.5 638.3,279.7 638.7,282.0 639.1,284.4 639.5,286.9 639.8,289.5 640.2,292.2 640.6,295.0 640.9,297.7 641.3,300.5 641.7,303.3 642.1,306.1 642.4,308.9 642.8,311.6 643.2,314.2 643.5,316.8 643.9,319.3 644.3,321.7 644.7,324.0 645.0,326.3 645.4,328.4 645.8,330.4 646.2,332.3 646.5,334.1 646.9,335.8 647.3,337.4 647.6,338.8 648.0,340.2 648.4,341.5 648.8,342.6 649.1,343.7 649.5,344.7 649.9,345.6 650.2,346.4 650.6,347.1 651.0,347.8 651.4,348.4 651.7,348.9 652.1,349.4 652.5,349.8 652.9,350.2 653.2,350.5 653.6,350.8 654.0,351.1 654.3,351.3 654.7,351.5 655.1,351.7 655.5,351.8 655.8,352.0 656.2,352.1 656.6,352.2 657.0,352.3 657.3,352.3 657.7,352.4 658.1,352.4 658.4,352.5 658.8,352.5 659.2,352.6 659.6,352.6 659.9,352.6 660.3,352.6 660.7,352.6 661.0,352.6 661.4,352.7 661.8,352.7 662.2,352.7 662.5,352.7 662.9,352.7 663.3,352.7 663.7,352.7 664.0,352.7 664.4,352.7 664.8,352.7 665.1,352.7 665.5,352.7 665.9,352.7 666.3,352.7 666.6,352.7 667.0,352.7 667.4,352.7 667.8,352.7 668.1,352.7 668.5,352.7 668.9,352.7 669.2,352.7 669.6,352.7 670.0,352.7 670.4,352.7 670.7,352.7 671.1,352.7 671.5,352.7 671.8,352.7 672.2,352.7 672.6,352.7 673.0,352.7 673.3,352.7 673.7,352.7 674.1,352.7 674.5,352.7 674.8,352.7 675.2,352.7 675.6,352.7 675.9,352.7 676.3,352.7 676.7,352.7 677.1,352.7 677.4,352.7 677.8,352.7 678.2,352.7 678.5,352.7 678.9,352.7 679.3,352.7 679.7,352.7 680.0,352.7 680.4,352.7 680.8,352.7 681.2,352.7 681.5,352.7 681.9,352.7 682.3,352.7 682.6,352.7 683.0,352.7 683.4,352.7 683.8,352.7 684.1,352.7 684.5,352.7 684.9,352.7 685.3,352.7 685.6,352.7 686.0,352.7 686.4,352.7 686.7,352.7 687.1,352.7 687.5,352.7 687.9,352.7 688.2,352.7 688.6,352.7 689.0,352.7 689.3,352.7 689.7,352.7 690.1,352.7 690.5,352.7 690.8,352.7 691.2,352.7 691.6,352.7 692.0,352.7 692.3,352.7 692.7,352.7 693.1,352.7 693.4,352.7 693.8,352.7 694.2,352.7 694.6,352.7 694.9,352.7 695.3,352.7 695.7,352.7 696.1,352.7 696.4,352.7 696.8,352.7 697.2,352.7 697.5,352.7 697.9,352.7 698.3,352.7 698.7,352.7 699.0,352.7 699.4,352.7 699.8,352.7 700.1,352.7 700.5,352.7 700.9,352.7 701.3,352.7 701.6,352.7 702.0,352.7 702.4,352.7 702.8,352.7 703.1,352.7 703.5,352.7 703.9,352.7 704.2,352.7 704.6,352.7 705.0,352.7 705.4,352.7 705.7,352.7 706.1,352.7 706.5,352.7 706.8,352.7 707.2,352.7 707.6,352.7 708.0,352.7 708.3,352.7 708.7,352.7 709.1,352.7 709.5,352.7 709.8,352.7 710.2,352.7 710.6,352.7 710.9,352.7 711.3,352.7 711.7,352.7 712.1,352.7 712.4,352.7 712.8,352.7 713.2,352.7 713.6,352.7 713.9,352.7 714.3,352.7 714.7,352.7 715.0,352.7 715.4,352.7 715.8,352.7 716.2,352.7 716.5,352.7 716.9,352.7 717.3,352.7 717.6,352.7 718.0,352.7 718.4,352.7 718.8,352.7 719.1,352.7 719.5,352.7 719.9,352.7 720.3,352.7 720.6,352.7 721.0,352.7 721.4,352.7 721.7,352.7 722.1,352.7 722.5,352.7 722.9,352.7 723.2,352.7 723.6,352.7 724.0,352.7 724.4,352.7 724.7,352.7 725.1,352.7 725.5,352.7 725.8,352.7 726.2,352.7 726.6,352.7 727.0,352.7 727.3,352.7 727.7,352.7 728.1,352.7 728.4,352.7 728.8,352.7 729.2,352.7 729.6,352.7 729.9,352.7 730.3,352.7 730.7,352.7 731.1,352.7 731.4,352.7 731.8,352.7 732.2,352.7 732.5,352.7 732.9,352.7 733.3,352.7 733.7,352.7 734.0,352.7" fill="none" stroke="#f01e00" stroke-width="1.8"/>
<text transform="translate(702.0,313.6) scale(1.05,1)" font-family='"Liberation Sans", sans-serif' font-size="24.0" font-weight="bold" fill="#f00">f</text>
<rect x="809" y="243.5" width="200.4" height="138" fill="none" stroke="#585858" stroke-width="1"/>
<line x1="802.5" y1="370.6" x2="809" y2="370.6" stroke="#585858"/>
<line x1="1009.4" y1="370.6" x2="1015" y2="370.6" stroke="#585858"/>
<text x="802.6" y="375.4" text-anchor="end" font-family='"Liberation Sans", sans-serif' font-size="13.6" letter-spacing="0.9">0.0</text>
<line x1="802.5" y1="340.5" x2="809" y2="340.5" stroke="#585858"/>
<line x1="1009.4" y1="340.5" x2="1015" y2="340.5" stroke="#585858"/>
<text x="802.6" y="345.3" text-anchor="end" font-family='"Liberation Sans", sans-serif' font-size="13.6" letter-spacing="0.9">0.5</text>
<line x1="802.5" y1="310.4" x2="809" y2="310.4" stroke="#585858"/>
<line x1="1009.4" y1="310.4" x2="1015" y2="310.4" stroke="#585858"/>
<text x="802.6" y="315.2" text-anchor="end" font-family='"Liberation Sans", sans-serif' font-size="13.6" letter-spacing="0.9">1.0</text>
<line x1="802.5" y1="280.3" x2="809" y2="280.3" stroke="#585858"/>
<line x1="1009.4" y1="280.3" x2="1015" y2="280.3" stroke="#585858"/>
<text x="802.6" y="285.1" text-anchor="end" font-family='"Liberation Sans", sans-serif' font-size="13.6" letter-spacing="0.9">1.5</text>
<line x1="802.5" y1="250.2" x2="809" y2="250.2" stroke="#585858"/>
<line x1="1009.4" y1="250.2" x2="1015" y2="250.2" stroke="#585858"/>
<text x="802.6" y="255.0" text-anchor="end" font-family='"Liberation Sans", sans-serif' font-size="13.6" letter-spacing="0.9">2.0</text>
<line x1="811.3" y1="381.6" x2="811.3" y2="387" stroke="#585858"/>
<line x1="811.3" y1="238" x2="811.3" y2="243.5" stroke="#585858"/>
<text x="811.8" y="402.2" text-anchor="middle" font-family='"Liberation Sans", sans-serif' font-size="13.6" letter-spacing="0.9">0</text>
<line x1="843.8" y1="381.6" x2="843.8" y2="387" stroke="#585858"/>
<line x1="843.8" y1="238" x2="843.8" y2="243.5" stroke="#585858"/>
<text x="844.3" y="402.2" text-anchor="middle" font-family='"Liberation Sans", sans-serif' font-size="13.6" letter-spacing="0.9">30</text>
<line x1="876.3" y1="381.6" x2="876.3" y2="387" stroke="#585858"/>
<line x1="876.3" y1="238" x2="876.3" y2="243.5" stroke="#585858"/>
<text x="876.8" y="402.2" text-anchor="middle" font-family='"Liberation Sans", sans-serif' font-size="13.6" letter-spacing="0.9">60</text>
<line x1="908.9" y1="381.6" x2="908.9" y2="387" stroke="#585858"/>
<line x1="908.9" y1="238" x2="908.9" y2="243.5" stroke="#585858"/>
<text x="909.4" y="402.2" text-anchor="middle" font-family='"Liberation Sans", sans-serif' font-size="13.6" letter-spacing="0.9">90</text>
<line x1="941.4" y1="381.6" x2="941.4" y2="387" stroke="#585858"/>
<line x1="941.4" y1="238" x2="941.4" y2="243.5" stroke="#585858"/>
<text x="941.9" y="402.2" text-anchor="middle" font-family='"Liberation Sans", sans-serif' font-size="13.6" letter-spacing="0.9">120</text>
<line x1="973.9" y1="381.6" x2="973.9" y2="387" stroke="#585858"/>
<line x1="973.9" y1="238" x2="973.9" y2="243.5" stroke="#585858"/>
<text x="974.4" y="402.2" text-anchor="middle" font-family='"Liberation Sans", sans-serif' font-size="13.6" letter-spacing="0.9">150</text>
<line x1="1006.4" y1="381.6" x2="1006.4" y2="387" stroke="#585858"/>
<line x1="1006.4" y1="238" x2="1006.4" y2="243.5" stroke="#585858"/>
<text x="1006.9" y="402.2" text-anchor="middle" font-family='"Liberation Sans", sans-serif' font-size="13.6" letter-spacing="0.9">180</text>
<text x="908.7" y="420.3" text-anchor="middle" font-family='"Liberation Sans", sans-serif' font-size="15.2">Polarization angle (degrees)</text>
<text transform="translate(773.5,313.2) rotate(-90)" text-anchor="middle" font-family='"Liberation Serif", serif' font-size="17">I<tspan font-style="italic">/b</tspan></text>
<polyline points="811.8,256.2 812.8,256.3 813.8,256.4 814.8,256.6 815.8,256.8 816.7,257.0 817.7,257.4 818.7,257.7 819.7,258.2 820.6,258.7 821.6,259.2 822.6,259.8 823.6,260.4 824.6,261.1 825.5,261.8 826.5,262.6 827.5,263.4 828.5,264.3 829.4,265.2 830.4,266.2 831.4,267.2 832.4,268.2 833.4,269.3 834.3,270.4 835.3,271.6 836.3,272.8 837.3,274.1 838.2,275.4 839.2,276.7 840.2,278.0 841.2,279.4 842.2,280.8 843.1,282.3 844.1,283.7 845.1,285.2 846.1,286.8 847.0,288.3 848.0,289.9 849.0,291.5 850.0,293.1 850.9,294.7 851.9,296.3 852.9,298.0 853.9,299.7 854.9,301.3 855.8,303.0 856.8,304.7 857.8,306.4 858.8,308.1 859.7,309.8 860.7,311.5 861.7,313.2 862.7,314.9 863.7,316.6 864.6,318.3 865.6,320.0 866.6,321.7 867.6,323.4 868.5,325.0 869.5,326.6 870.5,328.3 871.5,329.9 872.5,331.4 873.4,333.0 874.4,334.5 875.4,336.1 876.4,337.5 877.3,339.0 878.3,340.4 879.3,341.8 880.3,343.2 881.3,344.6 882.2,345.9 883.2,347.1 884.2,348.4 885.2,349.6 886.1,350.7 887.1,351.8 888.1,352.9 889.1,354.0 890.1,355.0 891.0,355.9 892.0,356.8 893.0,357.7 894.0,358.5 894.9,359.2 895.9,360.0 896.9,360.6 897.9,361.2 898.9,361.8 899.8,362.3 900.8,362.8 901.8,363.2 902.8,363.5 903.7,363.8 904.7,364.1 905.7,364.3 906.7,364.4 907.7,364.5 908.6,364.6 909.6,364.6 910.6,364.5 911.6,364.4 912.5,364.2 913.5,364.0 914.5,363.7 915.5,363.4 916.5,363.0 917.4,362.5 918.4,362.0 919.4,361.5 920.4,360.9 921.3,360.3 922.3,359.6 923.3,358.8 924.3,358.0 925.3,357.2 926.2,356.3 927.2,355.4 928.2,354.4 929.2,353.4 930.1,352.3 931.1,351.2 932.1,350.1 933.1,348.9 934.1,347.7 935.0,346.4 936.0,345.1 937.0,343.8 938.0,342.5 938.9,341.1 939.9,339.6 940.9,338.2 941.9,336.7 942.9,335.2 943.8,333.7 944.8,332.1 945.8,330.6 946.8,329.0 947.7,327.4 948.7,325.7 949.7,324.1 950.7,322.4 951.7,320.8 952.6,319.1 953.6,317.4 954.6,315.7 955.6,314.0 956.5,312.3 957.5,310.6 958.5,308.9 959.5,307.2 960.5,305.5 961.4,303.8 962.4,302.1 963.4,300.4 964.4,298.7 965.3,297.1 966.3,295.4 967.3,293.8 968.3,292.2 969.2,290.6 970.2,289.0 971.2,287.5 972.2,285.9 973.2,284.4 974.1,282.9 975.1,281.5 976.1,280.0 977.1,278.6 978.0,277.3 979.0,275.9 980.0,274.6 981.0,273.4 982.0,272.2 982.9,271.0 983.9,269.8 984.9,268.7 985.9,267.6 986.8,266.6 987.8,265.6 988.8,264.7 989.8,263.8 990.8,263.0 991.7,262.2 992.7,261.4 993.7,260.7 994.7,260.0 995.6,259.4 996.6,258.9 997.6,258.4 998.6,257.9 999.6,257.5 1000.5,257.2 1001.5,256.9 1002.5,256.6 1003.5,256.5 1004.4,256.3 1005.4,256.2 1006.4,256.2" fill="none" stroke="#1030d0" stroke-width="1.8"/>
<polyline points="811.8,297.5 812.8,299.3 813.8,301.1 814.8,302.8 815.8,304.6 816.7,306.4 817.7,308.2 818.7,310.0 819.7,311.8 820.6,313.6 821.6,315.4 822.6,317.2 823.6,319.0 824.6,320.8 825.5,322.5 826.5,324.3 827.5,326.0 828.5,327.8 829.4,329.5 830.4,331.2 831.4,332.8 832.4,334.5 833.4,336.1 834.3,337.7 835.3,339.3 836.3,340.8 837.3,342.3 838.2,343.8 839.2,345.2 840.2,346.6 841.2,348.0 842.2,349.3 843.1,350.6 844.1,351.9 845.1,353.1 846.1,354.3 847.0,355.4 848.0,356.5 849.0,357.6 850.0,358.6 850.9,359.5 851.9,360.4 852.9,361.3 853.9,362.1 854.9,362.8 855.8,363.5 856.8,364.1 857.8,364.7 858.8,365.3 859.7,365.7 860.7,366.2 861.7,366.5 862.7,366.9 863.7,367.1 864.6,367.3 865.6,367.5 866.6,367.6 867.6,367.6 868.5,367.6 869.5,367.5 870.5,367.4 871.5,367.2 872.5,366.9 873.4,366.6 874.4,366.2 875.4,365.8 876.4,365.4 877.3,364.8 878.3,364.3 879.3,363.6 880.3,362.9 881.3,362.2 882.2,361.4 883.2,360.6 884.2,359.7 885.2,358.7 886.1,357.8 887.1,356.7 888.1,355.6 889.1,354.5 890.1,353.4 891.0,352.1 892.0,350.9 893.0,349.6 894.0,348.3 894.9,346.9 895.9,345.5 896.9,344.1 897.9,342.6 898.9,341.1 899.8,339.5 900.8,338.0 901.8,336.4 902.8,334.8 903.7,333.1 904.7,331.5 905.7,329.8 906.7,328.1 907.7,326.4 908.6,324.6 909.6,322.9 910.6,321.1 911.6,319.3 912.5,317.6 913.5,315.8 914.5,314.0 915.5,312.2 916.5,310.4 917.4,308.6 918.4,306.8 919.4,305.0 920.4,303.2 921.3,301.4 922.3,299.6 923.3,297.9 924.3,296.1 925.3,294.4 926.2,292.7 927.2,291.0 928.2,289.3 929.2,287.6 930.1,286.0 931.1,284.4 932.1,282.8 933.1,281.2 934.1,279.7 935.0,278.2 936.0,276.7 937.0,275.3 938.0,273.9 938.9,272.5 939.9,271.2 940.9,269.9 941.9,268.6 942.9,267.4 943.8,266.2 944.8,265.1 945.8,264.0 946.8,263.0 947.7,262.0 948.7,261.1 949.7,260.2 950.7,259.4 951.7,258.6 952.6,257.8 953.6,257.2 954.6,256.5 955.6,256.0 956.5,255.4 957.5,255.0 958.5,254.5 959.5,254.2 960.5,253.9 961.4,253.6 962.4,253.4 963.4,253.3 964.4,253.2 965.3,253.2 966.3,253.2 967.3,253.3 968.3,253.5 969.2,253.7 970.2,254.0 971.2,254.3 972.2,254.6 973.2,255.1 974.1,255.6 975.1,256.1 976.1,256.7 977.1,257.3 978.0,258.0 979.0,258.8 980.0,259.6 981.0,260.4 982.0,261.3 982.9,262.3 983.9,263.3 984.9,264.3 985.9,265.4 986.8,266.5 987.8,267.7 988.8,268.9 989.8,270.2 990.8,271.5 991.7,272.8 992.7,274.2 993.7,275.6 994.7,277.1 995.6,278.5 996.6,280.1 997.6,281.6 998.6,283.2 999.6,284.8 1000.5,286.4 1001.5,288.0 1002.5,289.7 1003.5,291.4 1004.4,293.1 1005.4,294.8 1006.4,296.6" fill="none" stroke="#f02010" stroke-width="1.8"/>
<path d="M811.8 246.3V252.9M809.4 246.3H814.2M809.4 252.9H814.2" stroke="#1030d0" stroke-width="1.1" fill="none"/>
<path d="M809.6 249.6L811.8 247.8L814.0 249.6L811.8 251.4Z" fill="#1030d0"/>
<path d="M811.8 288.1V294.1M809.4 288.1H814.2M809.4 294.1H814.2" stroke="#f02010" stroke-width="1.1" fill="none"/>
<path d="M809.6 291.1L811.8 289.3L814.0 291.1L811.8 292.9Z" fill="#f02010"/>
<path d="M822.6 264.9V271.6M820.2 264.9H825.0M820.2 271.6H825.0" stroke="#1030d0" stroke-width="1.1" fill="none"/>
<path d="M820.4 268.3L822.6 266.5L824.8 268.3L822.6 270.1Z" fill="#1030d0"/>
<path d="M822.6 319.4V325.4M820.2 319.4H825.0M820.2 325.4H825.0" stroke="#f02010" stroke-width="1.1" fill="none"/>
<path d="M820.4 322.4L822.6 320.6L824.8 322.4L822.6 324.2Z" fill="#f02010"/>
<path d="M833.5 271.0V277.6M831.1 271.0H835.9M831.1 277.6H835.9" stroke="#1030d0" stroke-width="1.1" fill="none"/>
<path d="M831.3 274.3L833.5 272.5L835.7 274.3L833.5 276.1Z" fill="#1030d0"/>
<path d="M833.5 344.7V360.4M831.1 344.7H835.9M831.1 360.4H835.9" stroke="#f02010" stroke-width="1.1" fill="none"/>
<path d="M831.3 352.5L833.5 350.7L835.7 352.5L833.5 354.3Z" fill="#f02010"/>
<path d="M844.3 279.4V286.0M841.9 279.4H846.7M841.9 286.0H846.7" stroke="#1030d0" stroke-width="1.1" fill="none"/>
<path d="M842.1 282.7L844.3 280.9L846.5 282.7L844.3 284.5Z" fill="#1030d0"/>
<path d="M844.3 348.9V354.9M841.9 348.9H846.7M841.9 354.9H846.7" stroke="#f02010" stroke-width="1.1" fill="none"/>
<path d="M842.1 351.9L844.3 350.1L846.5 351.9L844.3 353.7Z" fill="#f02010"/>
<path d="M855.2 296.3V302.9M852.8 296.3H857.6M852.8 302.9H857.6" stroke="#1030d0" stroke-width="1.1" fill="none"/>
<path d="M853.0 299.6L855.2 297.8L857.4 299.6L855.2 301.4Z" fill="#1030d0"/>
<path d="M855.2 347.7V359.8M852.8 347.7H857.6M852.8 359.8H857.6" stroke="#f02010" stroke-width="1.1" fill="none"/>
<path d="M853.0 353.7L855.2 351.9L857.4 353.7L855.2 355.5Z" fill="#f02010"/>
<path d="M866.0 317.9V324.5M863.6 317.9H868.4M863.6 324.5H868.4" stroke="#1030d0" stroke-width="1.1" fill="none"/>
<path d="M863.8 321.2L866.0 319.4L868.2 321.2L866.0 323.0Z" fill="#1030d0"/>
<path d="M866.0 364.6V369.4M863.6 364.6H868.4M863.6 369.4H868.4" stroke="#f02010" stroke-width="1.1" fill="none"/>
<path d="M863.8 367.0L866.0 365.2L868.2 367.0L866.0 368.8Z" fill="#f02010"/>
<path d="M876.8 336.6V343.2M874.4 336.6H879.2M874.4 343.2H879.2" stroke="#1030d0" stroke-width="1.1" fill="none"/>
<path d="M874.6 339.9L876.8 338.1L879.0 339.9L876.8 341.7Z" fill="#1030d0"/>
<path d="M876.8 358.6V368.2M874.4 358.6H879.2M874.4 368.2H879.2" stroke="#f02010" stroke-width="1.1" fill="none"/>
<path d="M874.6 363.4L876.8 361.6L879.0 363.4L876.8 365.2Z" fill="#f02010"/>
<path d="M887.7 347.4V354.0M885.3 347.4H890.1M885.3 354.0H890.1" stroke="#1030d0" stroke-width="1.1" fill="none"/>
<path d="M885.5 350.7L887.7 348.9L889.9 350.7L887.7 352.5Z" fill="#1030d0"/>
<path d="M887.7 351.9V364.0M885.3 351.9H890.1M885.3 364.0H890.1" stroke="#f02010" stroke-width="1.1" fill="none"/>
<path d="M885.5 358.0L887.7 356.2L889.9 358.0L887.7 359.8Z" fill="#f02010"/>
<path d="M898.5 354.6V361.3M896.1 354.6H900.9M896.1 361.3H900.9" stroke="#1030d0" stroke-width="1.1" fill="none"/>
<path d="M896.3 358.0L898.5 356.2L900.7 358.0L898.5 359.8Z" fill="#1030d0"/>
<path d="M898.5 325.5V337.5M896.1 325.5H900.9M896.1 337.5H900.9" stroke="#f02010" stroke-width="1.1" fill="none"/>
<path d="M896.3 331.5L898.5 329.7L900.7 331.5L898.5 333.3Z" fill="#f02010"/>
<path d="M909.4 372.1V378.7M907.0 372.1H911.8M907.0 378.7H911.8" stroke="#1030d0" stroke-width="1.1" fill="none"/>
<path d="M907.2 375.4L909.4 373.6L911.6 375.4L909.4 377.2Z" fill="#1030d0"/>
<path d="M909.4 309.8V319.4M907.0 309.8H911.8M907.0 319.4H911.8" stroke="#f02010" stroke-width="1.1" fill="none"/>
<path d="M907.2 314.6L909.4 312.8L911.6 314.6L909.4 316.4Z" fill="#f02010"/>
<path d="M920.2 356.5V363.1M917.8 356.5H922.6M917.8 363.1H922.6" stroke="#1030d0" stroke-width="1.1" fill="none"/>
<path d="M918.0 359.8L920.2 358.0L922.4 359.8L920.2 361.6Z" fill="#1030d0"/>
<path d="M920.2 299.0V306.2M917.8 299.0H922.6M917.8 306.2H922.6" stroke="#f02010" stroke-width="1.1" fill="none"/>
<path d="M918.0 302.6L920.2 300.8L922.4 302.6L920.2 304.4Z" fill="#f02010"/>
<path d="M931.0 348.6V355.2M928.6 348.6H933.4M928.6 355.2H933.4" stroke="#1030d0" stroke-width="1.1" fill="none"/>
<path d="M928.8 351.9L931.0 350.1L933.2 351.9L931.0 353.7Z" fill="#1030d0"/>
<path d="M931.0 282.7V289.9M928.6 282.7H933.4M928.6 289.9H933.4" stroke="#f02010" stroke-width="1.1" fill="none"/>
<path d="M928.8 286.3L931.0 284.5L933.2 286.3L931.0 288.1Z" fill="#f02010"/>
<path d="M941.9 336.0V342.6M939.5 336.0H944.3M939.5 342.6H944.3" stroke="#1030d0" stroke-width="1.1" fill="none"/>
<path d="M939.7 339.3L941.9 337.5L944.1 339.3L941.9 341.1Z" fill="#1030d0"/>
<path d="M941.9 279.7V285.7M939.5 279.7H944.3M939.5 285.7H944.3" stroke="#f02010" stroke-width="1.1" fill="none"/>
<path d="M939.7 282.7L941.9 280.9L944.1 282.7L941.9 284.5Z" fill="#f02010"/>
<path d="M952.7 309.5V316.1M950.3 309.5H955.1M950.3 316.1H955.1" stroke="#1030d0" stroke-width="1.1" fill="none"/>
<path d="M950.5 312.8L952.7 311.0L954.9 312.8L952.7 314.6Z" fill="#1030d0"/>
<path d="M952.7 256.2V262.2M950.3 256.2H955.1M950.3 262.2H955.1" stroke="#f02010" stroke-width="1.1" fill="none"/>
<path d="M950.5 259.2L952.7 257.4L954.9 259.2L952.7 261.0Z" fill="#f02010"/>
<path d="M963.5 299.9V306.5M961.1 299.9H965.9M961.1 306.5H965.9" stroke="#1030d0" stroke-width="1.1" fill="none"/>
<path d="M961.3 303.2L963.5 301.4L965.7 303.2L963.5 305.0Z" fill="#1030d0"/>
<path d="M963.5 249.0V255.0M961.1 249.0H965.9M961.1 255.0H965.9" stroke="#f02010" stroke-width="1.1" fill="none"/>
<path d="M961.3 252.0L963.5 250.2L965.7 252.0L963.5 253.8Z" fill="#f02010"/>
<path d="M974.4 283.6V290.2M972.0 283.6H976.8M972.0 290.2H976.8" stroke="#1030d0" stroke-width="1.1" fill="none"/>
<path d="M972.2 286.9L974.4 285.1L976.6 286.9L974.4 288.7Z" fill="#1030d0"/>
<path d="M974.4 252.6V258.6M972.0 252.6H976.8M972.0 258.6H976.8" stroke="#f02010" stroke-width="1.1" fill="none"/>
<path d="M972.2 255.6L974.4 253.8L976.6 255.6L974.4 257.4Z" fill="#f02010"/>
<path d="M985.2 264.3V271.0M982.8 264.3H987.6M982.8 271.0H987.6" stroke="#1030d0" stroke-width="1.1" fill="none"/>
<path d="M983.0 267.7L985.2 265.9L987.4 267.7L985.2 269.5Z" fill="#1030d0"/>
<path d="M985.2 256.8V262.8M982.8 256.8H987.6M982.8 262.8H987.6" stroke="#f02010" stroke-width="1.1" fill="none"/>
<path d="M983.0 259.8L985.2 258.0L987.4 259.8L985.2 261.6Z" fill="#f02010"/>
<path d="M996.1 251.1V257.7M993.7 251.1H998.5M993.7 257.7H998.5" stroke="#1030d0" stroke-width="1.1" fill="none"/>
<path d="M993.9 254.4L996.1 252.6L998.3 254.4L996.1 256.2Z" fill="#1030d0"/>
<path d="M996.1 274.9V283.3M993.7 274.9H998.5M993.7 283.3H998.5" stroke="#f02010" stroke-width="1.1" fill="none"/>
<path d="M993.9 279.1L996.1 277.3L998.3 279.1L996.1 280.9Z" fill="#f02010"/>
<path d="M1006.9 246.9V253.5M1004.5 246.9H1009.3M1004.5 253.5H1009.3" stroke="#1030d0" stroke-width="1.1" fill="none"/>
<path d="M1004.7 250.2L1006.9 248.4L1009.1 250.2L1006.9 252.0Z" fill="#1030d0"/>
<path d="M1006.9 297.2V303.2M1004.5 297.2H1009.3M1004.5 303.2H1009.3" stroke="#f02010" stroke-width="1.1" fill="none"/>
<path d="M1004.7 300.2L1006.9 298.4L1009.1 300.2L1006.9 302.0Z" fill="#f02010"/>
<path d="M848.3 253.2H856.7M852.5 249V257.4" stroke="#1030d0" stroke-width="1.4"/>
<path d="M848.3 267.8H856.7M852.5 263.6V272" stroke="#f02010" stroke-width="1.4"/>
<text x="866.8" y="257.2" font-family='"Liberation Sans", sans-serif' font-size="12.5">Emitter A</text>
<text x="866.8" y="271.8" font-family='"Liberation Sans", sans-serif' font-size="12.5">Emitter B</text>
<text x="975" y="362" font-family='"Liberation Serif", serif' font-size="26" font-weight="bold" fill="#f00">g</text>
</svg></body></html>
